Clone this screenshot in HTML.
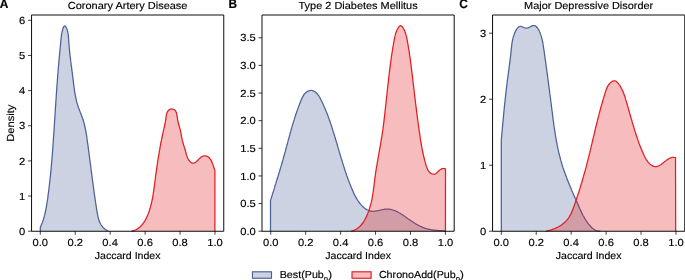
<!DOCTYPE html><html><head><meta charset="utf-8"><style>html,body{margin:0;padding:0;background:#fff;}svg{display:block;will-change:transform;} text{font-family:"Liberation Sans",sans-serif;fill:#000;text-rendering:geometricPrecision;stroke:#000;stroke-width:0.15px;}</style></head><body>
<svg width="685" height="280" viewBox="0 0 685 280">
<rect width="685" height="280" fill="#fff"/>
<path d="M40.30,231.20 L40.30,227.30 L40.6,226.7 L40.9,226.1 L41.1,225.5 L41.4,224.8 L41.7,224.2 L41.9,223.6 L42.2,223.0 L42.4,222.4 L42.6,221.7 L42.8,221.1 L43.1,220.5 L43.3,219.8 L43.5,219.2 L43.7,218.6 L43.8,217.9 L44.0,217.3 L44.2,216.7 L44.4,216.0 L44.6,215.4 L44.7,214.7 L44.9,214.1 L45.0,213.4 L45.2,212.8 L45.3,212.1 L45.5,211.5 L45.6,210.8 L45.7,210.2 L45.9,209.5 L46.0,208.9 L46.1,208.2 L46.2,207.6 L46.3,206.9 L46.5,206.3 L46.6,205.6 L46.7,204.9 L46.8,204.3 L46.9,203.6 L47.0,203.0 L47.1,202.3 L47.2,201.7 L47.3,201.0 L47.4,200.3 L47.5,199.7 L47.6,199.0 L47.7,198.4 L47.8,197.7 L47.9,197.0 L48.0,196.4 L48.0,195.7 L48.1,195.1 L48.2,194.4 L48.3,193.7 L48.4,193.1 L48.5,192.4 L48.6,191.8 L48.7,191.1 L48.7,190.4 L48.8,189.8 L48.9,189.1 L49.0,188.5 L49.1,187.8 L49.1,187.1 L49.2,186.5 L49.3,185.8 L49.4,185.1 L49.5,184.5 L49.5,183.8 L49.6,183.2 L49.7,182.5 L49.8,181.8 L49.8,181.2 L49.9,180.5 L50.0,179.9 L50.0,179.2 L50.1,178.5 L50.2,177.9 L50.3,177.2 L50.3,176.5 L50.4,175.9 L50.5,175.2 L50.5,174.6 L50.6,173.9 L50.7,173.2 L50.7,172.6 L50.8,171.9 L50.9,171.2 L50.9,170.6 L51.0,169.9 L51.0,169.3 L51.1,168.6 L51.2,167.9 L51.2,167.3 L51.3,166.6 L51.3,165.9 L51.4,165.3 L51.5,164.6 L51.5,163.9 L51.6,163.3 L51.6,162.6 L51.7,162.0 L51.8,161.3 L51.8,160.6 L51.9,160.0 L51.9,159.3 L52.0,158.6 L52.0,158.0 L52.1,157.3 L52.1,156.6 L52.2,156.0 L52.2,155.3 L52.3,154.6 L52.3,154.0 L52.4,153.3 L52.4,152.7 L52.5,152.0 L52.5,151.3 L52.6,150.7 L52.6,150.0 L52.7,149.3 L52.7,148.7 L52.8,148.0 L52.8,147.3 L52.9,146.7 L52.9,146.0 L53.0,145.3 L53.0,144.7 L53.1,144.0 L53.1,143.3 L53.2,142.7 L53.2,142.0 L53.3,141.4 L53.3,140.7 L53.4,140.0 L53.4,139.4 L53.4,138.7 L53.5,138.0 L53.5,137.4 L53.6,136.7 L53.6,136.0 L53.7,135.4 L53.7,134.7 L53.8,134.0 L53.8,133.4 L53.9,132.7 L53.9,132.0 L53.9,131.4 L54.0,130.7 L54.0,130.0 L54.1,129.4 L54.1,128.7 L54.2,128.1 L54.2,127.4 L54.2,126.7 L54.3,126.1 L54.3,125.4 L54.4,124.7 L54.4,124.1 L54.5,123.4 L54.5,122.7 L54.5,122.1 L54.6,121.4 L54.6,120.7 L54.7,120.1 L54.7,119.4 L54.8,118.7 L54.8,118.1 L54.8,117.4 L54.9,116.7 L54.9,116.1 L55.0,115.4 L55.0,114.8 L55.1,114.1 L55.1,113.4 L55.1,112.8 L55.2,112.1 L55.2,111.4 L55.3,110.8 L55.3,110.1 L55.4,109.4 L55.4,108.8 L55.4,108.1 L55.5,107.4 L55.5,106.8 L55.6,106.1 L55.6,105.4 L55.7,104.8 L55.7,104.1 L55.8,103.4 L55.8,102.8 L55.8,102.1 L55.9,101.5 L55.9,100.8 L56.0,100.1 L56.0,99.5 L56.1,98.8 L56.1,98.1 L56.2,97.5 L56.2,96.8 L56.2,96.1 L56.3,95.5 L56.3,94.8 L56.4,94.1 L56.4,93.5 L56.5,92.8 L56.5,92.1 L56.6,91.5 L56.6,90.8 L56.7,90.2 L56.7,89.5 L56.8,88.8 L56.8,88.2 L56.8,87.5 L56.9,86.8 L56.9,86.2 L57.0,85.5 L57.0,84.8 L57.1,84.2 L57.1,83.5 L57.2,82.8 L57.2,82.2 L57.3,81.5 L57.3,80.9 L57.4,80.2 L57.4,79.5 L57.5,78.9 L57.5,78.2 L57.6,77.5 L57.6,76.9 L57.7,76.2 L57.7,75.5 L57.8,74.9 L57.8,74.2 L57.9,73.5 L58.0,72.9 L58.0,72.2 L58.1,71.6 L58.1,70.9 L58.2,70.2 L58.2,69.6 L58.3,68.9 L58.3,68.2 L58.4,67.6 L58.4,66.9 L58.5,66.2 L58.6,65.6 L58.6,64.9 L58.7,64.3 L58.7,63.6 L58.8,62.9 L58.8,62.3 L58.9,61.6 L59.0,60.9 L59.0,60.3 L59.1,59.6 L59.1,58.9 L59.2,58.3 L59.3,57.6 L59.3,57.0 L59.4,56.3 L59.5,55.6 L59.5,55.0 L59.6,54.3 L59.6,53.6 L59.7,53.0 L59.8,52.3 L59.8,51.6 L59.9,51.0 L60.0,50.3 L60.0,49.7 L60.1,49.0 L60.1,48.3 L60.2,47.7 L60.3,47.0 L60.3,46.3 L60.4,45.7 L60.5,45.0 L60.5,44.4 L60.6,43.7 L60.7,43.0 L60.7,42.4 L60.8,41.7 L60.8,41.1 L60.9,40.4 L61.0,39.7 L61.0,39.1 L61.1,38.4 L61.2,37.8 L61.2,37.1 L61.3,36.4 L61.4,35.8 L61.5,35.1 L61.6,34.4 L61.7,33.7 L61.8,33.0 L62.0,32.4 L62.1,31.7 L62.3,31.0 L62.5,30.2 L62.7,29.5 L62.9,28.8 L63.2,28.1 L63.4,27.5 L63.7,26.9 L64.0,26.4 L64.3,26.1 L64.6,25.9 L64.9,25.9 L65.2,26.1 L65.6,26.5 L65.9,27.0 L66.2,27.5 L66.5,28.2 L66.8,28.9 L67.1,29.6 L67.3,30.3 L67.5,31.0 L67.7,31.7 L67.8,32.4 L68.0,33.1 L68.1,33.8 L68.2,34.5 L68.3,35.2 L68.3,35.8 L68.4,36.5 L68.5,37.2 L68.5,37.9 L68.6,38.5 L68.6,39.2 L68.6,39.9 L68.7,40.5 L68.7,41.2 L68.8,41.8 L68.8,42.5 L68.9,43.2 L68.9,43.8 L69.0,44.5 L69.0,45.2 L69.1,45.8 L69.1,46.5 L69.2,47.1 L69.3,47.8 L69.3,48.5 L69.4,49.1 L69.4,49.8 L69.5,50.4 L69.6,51.1 L69.7,51.8 L69.7,52.4 L69.8,53.1 L69.9,53.7 L69.9,54.4 L70.0,55.1 L70.1,55.7 L70.2,56.4 L70.2,57.0 L70.3,57.7 L70.4,58.4 L70.5,59.0 L70.6,59.7 L70.6,60.3 L70.7,61.0 L70.8,61.7 L70.9,62.3 L71.0,63.0 L71.1,63.6 L71.1,64.3 L71.2,65.0 L71.3,65.6 L71.4,66.3 L71.5,66.9 L71.6,67.6 L71.7,68.3 L71.7,68.9 L71.8,69.6 L71.9,70.2 L72.0,70.9 L72.1,71.6 L72.2,72.2 L72.3,72.9 L72.3,73.5 L72.4,74.2 L72.5,74.9 L72.6,75.5 L72.7,76.2 L72.8,76.8 L72.9,77.5 L72.9,78.2 L73.0,78.8 L73.1,79.5 L73.2,80.2 L73.3,80.8 L73.3,81.5 L73.4,82.2 L73.5,82.8 L73.6,83.5 L73.7,84.2 L73.7,84.8 L73.8,85.5 L73.9,86.2 L74.0,86.8 L74.1,87.5 L74.2,88.1 L74.3,88.8 L74.4,89.5 L74.5,90.1 L74.5,90.8 L74.6,91.5 L74.7,92.1 L74.9,92.8 L75.0,93.4 L75.1,94.1 L75.2,94.8 L75.3,95.4 L75.4,96.1 L75.6,96.7 L75.7,97.4 L75.8,98.0 L76.0,98.7 L76.1,99.3 L76.3,100.0 L76.4,100.6 L76.6,101.3 L76.7,101.9 L76.9,102.5 L77.1,103.2 L77.3,103.8 L77.5,104.4 L77.7,105.1 L77.9,105.7 L78.1,106.3 L78.3,107.0 L78.5,107.6 L78.7,108.2 L79.0,108.8 L79.2,109.4 L79.4,110.1 L79.7,110.7 L79.9,111.3 L80.2,111.9 L80.4,112.5 L80.7,113.2 L80.9,113.8 L81.1,114.4 L81.4,115.0 L81.6,115.6 L81.8,116.3 L82.1,116.9 L82.3,117.5 L82.5,118.1 L82.7,118.8 L83.0,119.4 L83.2,120.0 L83.4,120.7 L83.5,121.3 L83.7,121.9 L83.9,122.6 L84.1,123.2 L84.3,123.9 L84.4,124.5 L84.6,125.2 L84.7,125.8 L84.9,126.5 L85.0,127.1 L85.2,127.8 L85.3,128.4 L85.4,129.1 L85.6,129.8 L85.7,130.4 L85.8,131.1 L85.9,131.7 L86.0,132.4 L86.1,133.1 L86.3,133.7 L86.4,134.4 L86.5,135.0 L86.6,135.7 L86.7,136.4 L86.8,137.0 L86.9,137.7 L87.0,138.4 L87.1,139.0 L87.1,139.7 L87.2,140.4 L87.3,141.0 L87.4,141.7 L87.5,142.3 L87.6,143.0 L87.7,143.7 L87.8,144.3 L87.9,145.0 L88.0,145.6 L88.1,146.3 L88.2,147.0 L88.2,147.6 L88.3,148.3 L88.4,148.9 L88.5,149.6 L88.6,150.3 L88.7,150.9 L88.8,151.6 L88.9,152.2 L89.0,152.9 L89.0,153.6 L89.1,154.2 L89.2,154.9 L89.3,155.5 L89.4,156.2 L89.5,156.8 L89.6,157.5 L89.6,158.2 L89.7,158.8 L89.8,159.5 L89.9,160.1 L90.0,160.8 L90.1,161.4 L90.1,162.1 L90.2,162.8 L90.3,163.4 L90.4,164.1 L90.5,164.7 L90.6,165.4 L90.7,166.0 L90.7,166.7 L90.8,167.3 L90.9,168.0 L91.0,168.7 L91.1,169.3 L91.2,170.0 L91.2,170.6 L91.3,171.3 L91.4,171.9 L91.5,172.6 L91.6,173.2 L91.7,173.9 L91.8,174.6 L91.8,175.2 L91.9,175.9 L92.0,176.5 L92.1,177.2 L92.2,177.8 L92.3,178.5 L92.4,179.2 L92.4,179.8 L92.5,180.5 L92.6,181.1 L92.7,181.8 L92.8,182.4 L92.9,183.1 L93.0,183.8 L93.1,184.4 L93.1,185.1 L93.2,185.7 L93.3,186.4 L93.4,187.1 L93.5,187.7 L93.6,188.4 L93.7,189.0 L93.8,189.7 L93.9,190.4 L94.0,191.0 L94.0,191.7 L94.1,192.3 L94.2,193.0 L94.3,193.7 L94.4,194.3 L94.5,195.0 L94.6,195.7 L94.7,196.3 L94.8,197.0 L94.9,197.7 L95.0,198.3 L95.1,199.0 L95.2,199.7 L95.3,200.3 L95.4,201.0 L95.5,201.7 L95.6,202.3 L95.7,203.0 L95.8,203.7 L95.9,204.3 L96.0,205.0 L96.1,205.7 L96.2,206.3 L96.3,207.0 L96.4,207.7 L96.5,208.4 L96.6,209.0 L96.7,209.7 L96.8,210.4 L96.9,211.0 L97.1,211.7 L97.2,212.4 L97.3,213.1 L97.4,213.7 L97.5,214.4 L97.7,215.1 L97.8,215.7 L97.9,216.4 L98.1,217.0 L98.3,217.7 L98.4,218.3 L98.6,219.0 L98.8,219.6 L99.0,220.2 L99.2,220.8 L99.4,221.4 L99.7,222.0 L99.9,222.6 L100.2,223.2 L100.5,223.7 L100.8,224.3 L101.1,224.8 L101.5,225.4 L101.8,225.9 L102.2,226.4 L102.6,226.9 L103.0,227.4 L103.4,227.8 L103.9,228.3 L104.4,228.7 L104.9,229.1 L105.4,229.5 L106.0,229.9 L106.6,230.2 L107.2,230.6 L107.8,230.9 L108.5,231.2 L40.30,231.20 Z" fill="rgb(204,210,225)" stroke="none"/>
<path d="M40.30,231.20 L40.30,227.30 L40.6,226.7 L40.9,226.1 L41.1,225.5 L41.4,224.8 L41.7,224.2 L41.9,223.6 L42.2,223.0 L42.4,222.4 L42.6,221.7 L42.8,221.1 L43.1,220.5 L43.3,219.8 L43.5,219.2 L43.7,218.6 L43.8,217.9 L44.0,217.3 L44.2,216.7 L44.4,216.0 L44.6,215.4 L44.7,214.7 L44.9,214.1 L45.0,213.4 L45.2,212.8 L45.3,212.1 L45.5,211.5 L45.6,210.8 L45.7,210.2 L45.9,209.5 L46.0,208.9 L46.1,208.2 L46.2,207.6 L46.3,206.9 L46.5,206.3 L46.6,205.6 L46.7,204.9 L46.8,204.3 L46.9,203.6 L47.0,203.0 L47.1,202.3 L47.2,201.7 L47.3,201.0 L47.4,200.3 L47.5,199.7 L47.6,199.0 L47.7,198.4 L47.8,197.7 L47.9,197.0 L48.0,196.4 L48.0,195.7 L48.1,195.1 L48.2,194.4 L48.3,193.7 L48.4,193.1 L48.5,192.4 L48.6,191.8 L48.7,191.1 L48.7,190.4 L48.8,189.8 L48.9,189.1 L49.0,188.5 L49.1,187.8 L49.1,187.1 L49.2,186.5 L49.3,185.8 L49.4,185.1 L49.5,184.5 L49.5,183.8 L49.6,183.2 L49.7,182.5 L49.8,181.8 L49.8,181.2 L49.9,180.5 L50.0,179.9 L50.0,179.2 L50.1,178.5 L50.2,177.9 L50.3,177.2 L50.3,176.5 L50.4,175.9 L50.5,175.2 L50.5,174.6 L50.6,173.9 L50.7,173.2 L50.7,172.6 L50.8,171.9 L50.9,171.2 L50.9,170.6 L51.0,169.9 L51.0,169.3 L51.1,168.6 L51.2,167.9 L51.2,167.3 L51.3,166.6 L51.3,165.9 L51.4,165.3 L51.5,164.6 L51.5,163.9 L51.6,163.3 L51.6,162.6 L51.7,162.0 L51.8,161.3 L51.8,160.6 L51.9,160.0 L51.9,159.3 L52.0,158.6 L52.0,158.0 L52.1,157.3 L52.1,156.6 L52.2,156.0 L52.2,155.3 L52.3,154.6 L52.3,154.0 L52.4,153.3 L52.4,152.7 L52.5,152.0 L52.5,151.3 L52.6,150.7 L52.6,150.0 L52.7,149.3 L52.7,148.7 L52.8,148.0 L52.8,147.3 L52.9,146.7 L52.9,146.0 L53.0,145.3 L53.0,144.7 L53.1,144.0 L53.1,143.3 L53.2,142.7 L53.2,142.0 L53.3,141.4 L53.3,140.7 L53.4,140.0 L53.4,139.4 L53.4,138.7 L53.5,138.0 L53.5,137.4 L53.6,136.7 L53.6,136.0 L53.7,135.4 L53.7,134.7 L53.8,134.0 L53.8,133.4 L53.9,132.7 L53.9,132.0 L53.9,131.4 L54.0,130.7 L54.0,130.0 L54.1,129.4 L54.1,128.7 L54.2,128.1 L54.2,127.4 L54.2,126.7 L54.3,126.1 L54.3,125.4 L54.4,124.7 L54.4,124.1 L54.5,123.4 L54.5,122.7 L54.5,122.1 L54.6,121.4 L54.6,120.7 L54.7,120.1 L54.7,119.4 L54.8,118.7 L54.8,118.1 L54.8,117.4 L54.9,116.7 L54.9,116.1 L55.0,115.4 L55.0,114.8 L55.1,114.1 L55.1,113.4 L55.1,112.8 L55.2,112.1 L55.2,111.4 L55.3,110.8 L55.3,110.1 L55.4,109.4 L55.4,108.8 L55.4,108.1 L55.5,107.4 L55.5,106.8 L55.6,106.1 L55.6,105.4 L55.7,104.8 L55.7,104.1 L55.8,103.4 L55.8,102.8 L55.8,102.1 L55.9,101.5 L55.9,100.8 L56.0,100.1 L56.0,99.5 L56.1,98.8 L56.1,98.1 L56.2,97.5 L56.2,96.8 L56.2,96.1 L56.3,95.5 L56.3,94.8 L56.4,94.1 L56.4,93.5 L56.5,92.8 L56.5,92.1 L56.6,91.5 L56.6,90.8 L56.7,90.2 L56.7,89.5 L56.8,88.8 L56.8,88.2 L56.8,87.5 L56.9,86.8 L56.9,86.2 L57.0,85.5 L57.0,84.8 L57.1,84.2 L57.1,83.5 L57.2,82.8 L57.2,82.2 L57.3,81.5 L57.3,80.9 L57.4,80.2 L57.4,79.5 L57.5,78.9 L57.5,78.2 L57.6,77.5 L57.6,76.9 L57.7,76.2 L57.7,75.5 L57.8,74.9 L57.8,74.2 L57.9,73.5 L58.0,72.9 L58.0,72.2 L58.1,71.6 L58.1,70.9 L58.2,70.2 L58.2,69.6 L58.3,68.9 L58.3,68.2 L58.4,67.6 L58.4,66.9 L58.5,66.2 L58.6,65.6 L58.6,64.9 L58.7,64.3 L58.7,63.6 L58.8,62.9 L58.8,62.3 L58.9,61.6 L59.0,60.9 L59.0,60.3 L59.1,59.6 L59.1,58.9 L59.2,58.3 L59.3,57.6 L59.3,57.0 L59.4,56.3 L59.5,55.6 L59.5,55.0 L59.6,54.3 L59.6,53.6 L59.7,53.0 L59.8,52.3 L59.8,51.6 L59.9,51.0 L60.0,50.3 L60.0,49.7 L60.1,49.0 L60.1,48.3 L60.2,47.7 L60.3,47.0 L60.3,46.3 L60.4,45.7 L60.5,45.0 L60.5,44.4 L60.6,43.7 L60.7,43.0 L60.7,42.4 L60.8,41.7 L60.8,41.1 L60.9,40.4 L61.0,39.7 L61.0,39.1 L61.1,38.4 L61.2,37.8 L61.2,37.1 L61.3,36.4 L61.4,35.8 L61.5,35.1 L61.6,34.4 L61.7,33.7 L61.8,33.0 L62.0,32.4 L62.1,31.7 L62.3,31.0 L62.5,30.2 L62.7,29.5 L62.9,28.8 L63.2,28.1 L63.4,27.5 L63.7,26.9 L64.0,26.4 L64.3,26.1 L64.6,25.9 L64.9,25.9 L65.2,26.1 L65.6,26.5 L65.9,27.0 L66.2,27.5 L66.5,28.2 L66.8,28.9 L67.1,29.6 L67.3,30.3 L67.5,31.0 L67.7,31.7 L67.8,32.4 L68.0,33.1 L68.1,33.8 L68.2,34.5 L68.3,35.2 L68.3,35.8 L68.4,36.5 L68.5,37.2 L68.5,37.9 L68.6,38.5 L68.6,39.2 L68.6,39.9 L68.7,40.5 L68.7,41.2 L68.8,41.8 L68.8,42.5 L68.9,43.2 L68.9,43.8 L69.0,44.5 L69.0,45.2 L69.1,45.8 L69.1,46.5 L69.2,47.1 L69.3,47.8 L69.3,48.5 L69.4,49.1 L69.4,49.8 L69.5,50.4 L69.6,51.1 L69.7,51.8 L69.7,52.4 L69.8,53.1 L69.9,53.7 L69.9,54.4 L70.0,55.1 L70.1,55.7 L70.2,56.4 L70.2,57.0 L70.3,57.7 L70.4,58.4 L70.5,59.0 L70.6,59.7 L70.6,60.3 L70.7,61.0 L70.8,61.7 L70.9,62.3 L71.0,63.0 L71.1,63.6 L71.1,64.3 L71.2,65.0 L71.3,65.6 L71.4,66.3 L71.5,66.9 L71.6,67.6 L71.7,68.3 L71.7,68.9 L71.8,69.6 L71.9,70.2 L72.0,70.9 L72.1,71.6 L72.2,72.2 L72.3,72.9 L72.3,73.5 L72.4,74.2 L72.5,74.9 L72.6,75.5 L72.7,76.2 L72.8,76.8 L72.9,77.5 L72.9,78.2 L73.0,78.8 L73.1,79.5 L73.2,80.2 L73.3,80.8 L73.3,81.5 L73.4,82.2 L73.5,82.8 L73.6,83.5 L73.7,84.2 L73.7,84.8 L73.8,85.5 L73.9,86.2 L74.0,86.8 L74.1,87.5 L74.2,88.1 L74.3,88.8 L74.4,89.5 L74.5,90.1 L74.5,90.8 L74.6,91.5 L74.7,92.1 L74.9,92.8 L75.0,93.4 L75.1,94.1 L75.2,94.8 L75.3,95.4 L75.4,96.1 L75.6,96.7 L75.7,97.4 L75.8,98.0 L76.0,98.7 L76.1,99.3 L76.3,100.0 L76.4,100.6 L76.6,101.3 L76.7,101.9 L76.9,102.5 L77.1,103.2 L77.3,103.8 L77.5,104.4 L77.7,105.1 L77.9,105.7 L78.1,106.3 L78.3,107.0 L78.5,107.6 L78.7,108.2 L79.0,108.8 L79.2,109.4 L79.4,110.1 L79.7,110.7 L79.9,111.3 L80.2,111.9 L80.4,112.5 L80.7,113.2 L80.9,113.8 L81.1,114.4 L81.4,115.0 L81.6,115.6 L81.8,116.3 L82.1,116.9 L82.3,117.5 L82.5,118.1 L82.7,118.8 L83.0,119.4 L83.2,120.0 L83.4,120.7 L83.5,121.3 L83.7,121.9 L83.9,122.6 L84.1,123.2 L84.3,123.9 L84.4,124.5 L84.6,125.2 L84.7,125.8 L84.9,126.5 L85.0,127.1 L85.2,127.8 L85.3,128.4 L85.4,129.1 L85.6,129.8 L85.7,130.4 L85.8,131.1 L85.9,131.7 L86.0,132.4 L86.1,133.1 L86.3,133.7 L86.4,134.4 L86.5,135.0 L86.6,135.7 L86.7,136.4 L86.8,137.0 L86.9,137.7 L87.0,138.4 L87.1,139.0 L87.1,139.7 L87.2,140.4 L87.3,141.0 L87.4,141.7 L87.5,142.3 L87.6,143.0 L87.7,143.7 L87.8,144.3 L87.9,145.0 L88.0,145.6 L88.1,146.3 L88.2,147.0 L88.2,147.6 L88.3,148.3 L88.4,148.9 L88.5,149.6 L88.6,150.3 L88.7,150.9 L88.8,151.6 L88.9,152.2 L89.0,152.9 L89.0,153.6 L89.1,154.2 L89.2,154.9 L89.3,155.5 L89.4,156.2 L89.5,156.8 L89.6,157.5 L89.6,158.2 L89.7,158.8 L89.8,159.5 L89.9,160.1 L90.0,160.8 L90.1,161.4 L90.1,162.1 L90.2,162.8 L90.3,163.4 L90.4,164.1 L90.5,164.7 L90.6,165.4 L90.7,166.0 L90.7,166.7 L90.8,167.3 L90.9,168.0 L91.0,168.7 L91.1,169.3 L91.2,170.0 L91.2,170.6 L91.3,171.3 L91.4,171.9 L91.5,172.6 L91.6,173.2 L91.7,173.9 L91.8,174.6 L91.8,175.2 L91.9,175.9 L92.0,176.5 L92.1,177.2 L92.2,177.8 L92.3,178.5 L92.4,179.2 L92.4,179.8 L92.5,180.5 L92.6,181.1 L92.7,181.8 L92.8,182.4 L92.9,183.1 L93.0,183.8 L93.1,184.4 L93.1,185.1 L93.2,185.7 L93.3,186.4 L93.4,187.1 L93.5,187.7 L93.6,188.4 L93.7,189.0 L93.8,189.7 L93.9,190.4 L94.0,191.0 L94.0,191.7 L94.1,192.3 L94.2,193.0 L94.3,193.7 L94.4,194.3 L94.5,195.0 L94.6,195.7 L94.7,196.3 L94.8,197.0 L94.9,197.7 L95.0,198.3 L95.1,199.0 L95.2,199.7 L95.3,200.3 L95.4,201.0 L95.5,201.7 L95.6,202.3 L95.7,203.0 L95.8,203.7 L95.9,204.3 L96.0,205.0 L96.1,205.7 L96.2,206.3 L96.3,207.0 L96.4,207.7 L96.5,208.4 L96.6,209.0 L96.7,209.7 L96.8,210.4 L96.9,211.0 L97.1,211.7 L97.2,212.4 L97.3,213.1 L97.4,213.7 L97.5,214.4 L97.7,215.1 L97.8,215.7 L97.9,216.4 L98.1,217.0 L98.3,217.7 L98.4,218.3 L98.6,219.0 L98.8,219.6 L99.0,220.2 L99.2,220.8 L99.4,221.4 L99.7,222.0 L99.9,222.6 L100.2,223.2 L100.5,223.7 L100.8,224.3 L101.1,224.8 L101.5,225.4 L101.8,225.9 L102.2,226.4 L102.6,226.9 L103.0,227.4 L103.4,227.8 L103.9,228.3 L104.4,228.7 L104.9,229.1 L105.4,229.5 L106.0,229.9 L106.6,230.2 L107.2,230.6 L107.8,230.9 L108.5,231.2" fill="none" stroke="#4b6198" stroke-width="1.25" stroke-linejoin="round"/>
<path d="M131.40,231.20 L132.1,231.1 L132.8,230.9 L133.5,230.7 L134.1,230.5 L134.7,230.2 L135.4,230.0 L136.0,229.7 L136.5,229.4 L137.1,229.1 L137.7,228.7 L138.2,228.4 L138.7,228.0 L139.2,227.6 L139.7,227.2 L140.2,226.7 L140.7,226.3 L141.1,225.8 L141.6,225.3 L142.0,224.9 L142.4,224.3 L142.8,223.8 L143.2,223.3 L143.6,222.8 L144.0,222.2 L144.3,221.6 L144.7,221.1 L145.0,220.5 L145.4,219.9 L145.7,219.3 L146.0,218.7 L146.3,218.1 L146.6,217.5 L146.9,216.9 L147.2,216.3 L147.4,215.7 L147.7,215.0 L147.9,214.4 L148.2,213.8 L148.4,213.2 L148.7,212.5 L148.9,211.9 L149.1,211.3 L149.3,210.7 L149.5,210.0 L149.7,209.4 L149.9,208.8 L150.1,208.1 L150.3,207.5 L150.5,206.8 L150.7,206.2 L150.8,205.6 L151.0,204.9 L151.2,204.3 L151.3,203.6 L151.5,203.0 L151.6,202.4 L151.8,201.7 L151.9,201.1 L152.0,200.4 L152.2,199.8 L152.3,199.1 L152.4,198.5 L152.6,197.8 L152.7,197.2 L152.8,196.5 L152.9,195.8 L153.0,195.2 L153.1,194.5 L153.2,193.9 L153.3,193.2 L153.4,192.6 L153.5,191.9 L153.6,191.3 L153.7,190.6 L153.8,189.9 L153.9,189.3 L154.0,188.6 L154.1,188.0 L154.2,187.3 L154.3,186.6 L154.3,186.0 L154.4,185.3 L154.5,184.7 L154.6,184.0 L154.7,183.3 L154.8,182.7 L154.9,182.0 L154.9,181.4 L155.0,180.7 L155.1,180.0 L155.2,179.4 L155.3,178.7 L155.4,178.0 L155.5,177.4 L155.5,176.7 L155.6,176.1 L155.7,175.4 L155.8,174.7 L155.9,174.1 L156.0,173.4 L156.1,172.7 L156.2,172.1 L156.3,171.4 L156.4,170.8 L156.5,170.1 L156.5,169.4 L156.6,168.8 L156.7,168.1 L156.8,167.5 L156.9,166.8 L157.0,166.1 L157.1,165.5 L157.2,164.8 L157.3,164.2 L157.4,163.5 L157.5,162.8 L157.6,162.2 L157.7,161.5 L157.8,160.9 L157.9,160.2 L158.0,159.5 L158.1,158.9 L158.2,158.2 L158.3,157.6 L158.4,156.9 L158.5,156.2 L158.7,155.6 L158.8,154.9 L158.9,154.3 L159.0,153.6 L159.1,153.0 L159.2,152.3 L159.3,151.7 L159.4,151.0 L159.5,150.3 L159.7,149.7 L159.8,149.0 L159.9,148.4 L160.0,147.7 L160.1,147.1 L160.2,146.4 L160.4,145.8 L160.5,145.1 L160.6,144.5 L160.7,143.8 L160.8,143.2 L161.0,142.5 L161.1,141.9 L161.2,141.2 L161.3,140.6 L161.5,139.9 L161.6,139.3 L161.7,138.6 L161.9,138.0 L162.0,137.3 L162.1,136.7 L162.3,136.1 L162.4,135.4 L162.5,134.8 L162.7,134.1 L162.8,133.5 L163.0,132.9 L163.1,132.2 L163.3,131.6 L163.4,130.9 L163.5,130.3 L163.7,129.7 L163.8,129.0 L164.0,128.4 L164.1,127.7 L164.3,127.1 L164.4,126.5 L164.6,125.8 L164.7,125.2 L164.9,124.5 L165.0,123.8 L165.1,123.2 L165.2,122.5 L165.4,121.8 L165.5,121.1 L165.6,120.4 L165.7,119.6 L165.8,118.9 L165.9,118.1 L166.0,117.4 L166.1,116.7 L166.2,115.9 L166.4,115.2 L166.5,114.5 L166.7,113.8 L166.9,113.1 L167.1,112.5 L167.4,111.9 L167.7,111.4 L168.1,110.9 L168.4,110.4 L168.9,110.0 L169.4,109.6 L169.9,109.4 L170.5,109.1 L171.1,109.0 L171.7,108.9 L172.3,109.0 L172.9,109.1 L173.5,109.3 L174.1,109.5 L174.5,109.9 L175.0,110.3 L175.4,110.7 L175.7,111.2 L176.0,111.8 L176.2,112.4 L176.5,113.0 L176.6,113.7 L176.8,114.4 L176.9,115.1 L177.1,115.9 L177.2,116.6 L177.3,117.4 L177.4,118.1 L177.5,118.9 L177.6,119.6 L177.7,120.3 L177.8,121.0 L178.0,121.7 L178.2,122.4 L178.3,123.1 L178.5,123.7 L178.7,124.4 L178.8,125.0 L179.0,125.6 L179.2,126.2 L179.4,126.8 L179.6,127.5 L179.8,128.1 L179.9,128.7 L180.1,129.3 L180.3,129.9 L180.4,130.6 L180.6,131.2 L180.7,131.9 L180.8,132.5 L180.9,133.2 L181.1,133.8 L181.2,134.5 L181.3,135.1 L181.4,135.8 L181.5,136.5 L181.6,137.1 L181.8,137.8 L181.9,138.4 L182.0,139.1 L182.2,139.8 L182.3,140.4 L182.5,141.0 L182.7,141.7 L182.9,142.3 L183.0,143.0 L183.2,143.6 L183.4,144.2 L183.6,144.9 L183.8,145.5 L184.0,146.1 L184.2,146.7 L184.4,147.4 L184.6,148.0 L184.8,148.6 L185.0,149.3 L185.2,149.9 L185.3,150.6 L185.5,151.2 L185.7,151.9 L185.8,152.5 L186.0,153.2 L186.2,153.8 L186.4,154.5 L186.6,155.1 L186.8,155.7 L187.0,156.4 L187.2,157.0 L187.5,157.6 L187.8,158.3 L188.1,158.9 L188.5,159.5 L188.8,160.1 L189.2,160.6 L189.7,161.2 L190.1,161.7 L190.6,162.1 L191.1,162.5 L191.6,162.8 L192.1,163.1 L192.6,163.2 L193.2,163.2 L193.7,163.2 L194.2,163.0 L194.8,162.7 L195.3,162.4 L195.9,162.0 L196.4,161.6 L196.9,161.1 L197.5,160.6 L198.0,160.0 L198.5,159.5 L199.0,158.9 L199.6,158.4 L200.1,157.9 L200.6,157.5 L201.2,157.0 L201.7,156.7 L202.3,156.4 L202.9,156.2 L203.5,156.0 L204.1,155.9 L204.7,155.9 L205.4,155.9 L206.0,156.0 L206.6,156.1 L207.2,156.4 L207.7,156.6 L208.3,157.0 L208.8,157.4 L209.2,157.8 L209.7,158.3 L210.1,158.8 L210.5,159.4 L210.9,160.0 L211.2,160.6 L211.5,161.2 L211.8,161.9 L212.1,162.5 L212.4,163.2 L212.7,163.8 L212.9,164.5 L213.1,165.1 L213.3,165.7 L213.5,166.3 L213.8,166.9 L213.9,167.6 L214.1,168.2 L214.3,168.8 L214.5,169.4 L214.7,170.0 L214.9,170.7 L214.90,231.20 L131.40,231.20 Z" fill="rgba(226,28,32,0.29)" stroke="none"/>
<path d="M131.40,231.20 L132.1,231.1 L132.8,230.9 L133.5,230.7 L134.1,230.5 L134.7,230.2 L135.4,230.0 L136.0,229.7 L136.5,229.4 L137.1,229.1 L137.7,228.7 L138.2,228.4 L138.7,228.0 L139.2,227.6 L139.7,227.2 L140.2,226.7 L140.7,226.3 L141.1,225.8 L141.6,225.3 L142.0,224.9 L142.4,224.3 L142.8,223.8 L143.2,223.3 L143.6,222.8 L144.0,222.2 L144.3,221.6 L144.7,221.1 L145.0,220.5 L145.4,219.9 L145.7,219.3 L146.0,218.7 L146.3,218.1 L146.6,217.5 L146.9,216.9 L147.2,216.3 L147.4,215.7 L147.7,215.0 L147.9,214.4 L148.2,213.8 L148.4,213.2 L148.7,212.5 L148.9,211.9 L149.1,211.3 L149.3,210.7 L149.5,210.0 L149.7,209.4 L149.9,208.8 L150.1,208.1 L150.3,207.5 L150.5,206.8 L150.7,206.2 L150.8,205.6 L151.0,204.9 L151.2,204.3 L151.3,203.6 L151.5,203.0 L151.6,202.4 L151.8,201.7 L151.9,201.1 L152.0,200.4 L152.2,199.8 L152.3,199.1 L152.4,198.5 L152.6,197.8 L152.7,197.2 L152.8,196.5 L152.9,195.8 L153.0,195.2 L153.1,194.5 L153.2,193.9 L153.3,193.2 L153.4,192.6 L153.5,191.9 L153.6,191.3 L153.7,190.6 L153.8,189.9 L153.9,189.3 L154.0,188.6 L154.1,188.0 L154.2,187.3 L154.3,186.6 L154.3,186.0 L154.4,185.3 L154.5,184.7 L154.6,184.0 L154.7,183.3 L154.8,182.7 L154.9,182.0 L154.9,181.4 L155.0,180.7 L155.1,180.0 L155.2,179.4 L155.3,178.7 L155.4,178.0 L155.5,177.4 L155.5,176.7 L155.6,176.1 L155.7,175.4 L155.8,174.7 L155.9,174.1 L156.0,173.4 L156.1,172.7 L156.2,172.1 L156.3,171.4 L156.4,170.8 L156.5,170.1 L156.5,169.4 L156.6,168.8 L156.7,168.1 L156.8,167.5 L156.9,166.8 L157.0,166.1 L157.1,165.5 L157.2,164.8 L157.3,164.2 L157.4,163.5 L157.5,162.8 L157.6,162.2 L157.7,161.5 L157.8,160.9 L157.9,160.2 L158.0,159.5 L158.1,158.9 L158.2,158.2 L158.3,157.6 L158.4,156.9 L158.5,156.2 L158.7,155.6 L158.8,154.9 L158.9,154.3 L159.0,153.6 L159.1,153.0 L159.2,152.3 L159.3,151.7 L159.4,151.0 L159.5,150.3 L159.7,149.7 L159.8,149.0 L159.9,148.4 L160.0,147.7 L160.1,147.1 L160.2,146.4 L160.4,145.8 L160.5,145.1 L160.6,144.5 L160.7,143.8 L160.8,143.2 L161.0,142.5 L161.1,141.9 L161.2,141.2 L161.3,140.6 L161.5,139.9 L161.6,139.3 L161.7,138.6 L161.9,138.0 L162.0,137.3 L162.1,136.7 L162.3,136.1 L162.4,135.4 L162.5,134.8 L162.7,134.1 L162.8,133.5 L163.0,132.9 L163.1,132.2 L163.3,131.6 L163.4,130.9 L163.5,130.3 L163.7,129.7 L163.8,129.0 L164.0,128.4 L164.1,127.7 L164.3,127.1 L164.4,126.5 L164.6,125.8 L164.7,125.2 L164.9,124.5 L165.0,123.8 L165.1,123.2 L165.2,122.5 L165.4,121.8 L165.5,121.1 L165.6,120.4 L165.7,119.6 L165.8,118.9 L165.9,118.1 L166.0,117.4 L166.1,116.7 L166.2,115.9 L166.4,115.2 L166.5,114.5 L166.7,113.8 L166.9,113.1 L167.1,112.5 L167.4,111.9 L167.7,111.4 L168.1,110.9 L168.4,110.4 L168.9,110.0 L169.4,109.6 L169.9,109.4 L170.5,109.1 L171.1,109.0 L171.7,108.9 L172.3,109.0 L172.9,109.1 L173.5,109.3 L174.1,109.5 L174.5,109.9 L175.0,110.3 L175.4,110.7 L175.7,111.2 L176.0,111.8 L176.2,112.4 L176.5,113.0 L176.6,113.7 L176.8,114.4 L176.9,115.1 L177.1,115.9 L177.2,116.6 L177.3,117.4 L177.4,118.1 L177.5,118.9 L177.6,119.6 L177.7,120.3 L177.8,121.0 L178.0,121.7 L178.2,122.4 L178.3,123.1 L178.5,123.7 L178.7,124.4 L178.8,125.0 L179.0,125.6 L179.2,126.2 L179.4,126.8 L179.6,127.5 L179.8,128.1 L179.9,128.7 L180.1,129.3 L180.3,129.9 L180.4,130.6 L180.6,131.2 L180.7,131.9 L180.8,132.5 L180.9,133.2 L181.1,133.8 L181.2,134.5 L181.3,135.1 L181.4,135.8 L181.5,136.5 L181.6,137.1 L181.8,137.8 L181.9,138.4 L182.0,139.1 L182.2,139.8 L182.3,140.4 L182.5,141.0 L182.7,141.7 L182.9,142.3 L183.0,143.0 L183.2,143.6 L183.4,144.2 L183.6,144.9 L183.8,145.5 L184.0,146.1 L184.2,146.7 L184.4,147.4 L184.6,148.0 L184.8,148.6 L185.0,149.3 L185.2,149.9 L185.3,150.6 L185.5,151.2 L185.7,151.9 L185.8,152.5 L186.0,153.2 L186.2,153.8 L186.4,154.5 L186.6,155.1 L186.8,155.7 L187.0,156.4 L187.2,157.0 L187.5,157.6 L187.8,158.3 L188.1,158.9 L188.5,159.5 L188.8,160.1 L189.2,160.6 L189.7,161.2 L190.1,161.7 L190.6,162.1 L191.1,162.5 L191.6,162.8 L192.1,163.1 L192.6,163.2 L193.2,163.2 L193.7,163.2 L194.2,163.0 L194.8,162.7 L195.3,162.4 L195.9,162.0 L196.4,161.6 L196.9,161.1 L197.5,160.6 L198.0,160.0 L198.5,159.5 L199.0,158.9 L199.6,158.4 L200.1,157.9 L200.6,157.5 L201.2,157.0 L201.7,156.7 L202.3,156.4 L202.9,156.2 L203.5,156.0 L204.1,155.9 L204.7,155.9 L205.4,155.9 L206.0,156.0 L206.6,156.1 L207.2,156.4 L207.7,156.6 L208.3,157.0 L208.8,157.4 L209.2,157.8 L209.7,158.3 L210.1,158.8 L210.5,159.4 L210.9,160.0 L211.2,160.6 L211.5,161.2 L211.8,161.9 L212.1,162.5 L212.4,163.2 L212.7,163.8 L212.9,164.5 L213.1,165.1 L213.3,165.7 L213.5,166.3 L213.8,166.9 L213.9,167.6 L214.1,168.2 L214.3,168.8 L214.5,169.4 L214.7,170.0 L214.9,170.7 L214.90,231.20" fill="none" stroke="#e21c20" stroke-width="1.25" stroke-linejoin="round"/>
<path d="M31.55,15.00 H223.75 V231.25 H31.55 Z" fill="none" stroke="#000" stroke-width="0.95" stroke-linejoin="miter"/>
<line x1="40.28" y1="231.20" x2="40.28" y2="234.70" stroke="#000" stroke-width="0.75"/>
<text x="40.28" y="246.00" font-size="10.25" text-anchor="middle" textLength="15.55" lengthAdjust="spacingAndGlyphs">0.0</text>
<line x1="75.22" y1="231.20" x2="75.22" y2="234.70" stroke="#000" stroke-width="0.75"/>
<text x="75.22" y="246.00" font-size="10.25" text-anchor="middle" textLength="15.55" lengthAdjust="spacingAndGlyphs">0.2</text>
<line x1="110.16" y1="231.20" x2="110.16" y2="234.70" stroke="#000" stroke-width="0.75"/>
<text x="110.16" y="246.00" font-size="10.25" text-anchor="middle" textLength="15.55" lengthAdjust="spacingAndGlyphs">0.4</text>
<line x1="145.11" y1="231.20" x2="145.11" y2="234.70" stroke="#000" stroke-width="0.75"/>
<text x="145.11" y="246.00" font-size="10.25" text-anchor="middle" textLength="15.55" lengthAdjust="spacingAndGlyphs">0.6</text>
<line x1="180.04" y1="231.20" x2="180.04" y2="234.70" stroke="#000" stroke-width="0.75"/>
<text x="180.04" y="246.00" font-size="10.25" text-anchor="middle" textLength="15.55" lengthAdjust="spacingAndGlyphs">0.8</text>
<line x1="214.98" y1="231.20" x2="214.98" y2="234.70" stroke="#000" stroke-width="0.75"/>
<text x="214.98" y="246.00" font-size="10.25" text-anchor="middle" textLength="15.55" lengthAdjust="spacingAndGlyphs">1.0</text>
<line x1="28.05" y1="231.20" x2="31.55" y2="231.20" stroke="#000" stroke-width="0.75"/>
<text x="25.35" y="234.85" font-size="10.25" text-anchor="end" textLength="6.22" lengthAdjust="spacingAndGlyphs">0</text>
<line x1="28.05" y1="196.05" x2="31.55" y2="196.05" stroke="#000" stroke-width="0.75"/>
<text x="25.35" y="199.70" font-size="10.25" text-anchor="end" textLength="6.22" lengthAdjust="spacingAndGlyphs">1</text>
<line x1="28.05" y1="160.90" x2="31.55" y2="160.90" stroke="#000" stroke-width="0.75"/>
<text x="25.35" y="164.55" font-size="10.25" text-anchor="end" textLength="6.22" lengthAdjust="spacingAndGlyphs">2</text>
<line x1="28.05" y1="125.75" x2="31.55" y2="125.75" stroke="#000" stroke-width="0.75"/>
<text x="25.35" y="129.40" font-size="10.25" text-anchor="end" textLength="6.22" lengthAdjust="spacingAndGlyphs">3</text>
<line x1="28.05" y1="90.60" x2="31.55" y2="90.60" stroke="#000" stroke-width="0.75"/>
<text x="25.35" y="94.25" font-size="10.25" text-anchor="end" textLength="6.22" lengthAdjust="spacingAndGlyphs">4</text>
<line x1="28.05" y1="55.45" x2="31.55" y2="55.45" stroke="#000" stroke-width="0.75"/>
<text x="25.35" y="59.10" font-size="10.25" text-anchor="end" textLength="6.22" lengthAdjust="spacingAndGlyphs">5</text>
<line x1="28.05" y1="20.30" x2="31.55" y2="20.30" stroke="#000" stroke-width="0.75"/>
<text x="25.35" y="23.95" font-size="10.25" text-anchor="end" textLength="6.22" lengthAdjust="spacingAndGlyphs">6</text>
<text x="127.65" y="9.20" font-size="10.25" text-anchor="middle" textLength="119.66" lengthAdjust="spacingAndGlyphs">Coronary Artery Disease</text>
<text x="127.65" y="258.80" font-size="10.25" text-anchor="middle" textLength="65.71" lengthAdjust="spacingAndGlyphs">Jaccard Index</text>
<path d="M270.50,231.20 L270.50,200.50 L270.7,199.9 L270.9,199.2 L271.1,198.6 L271.3,198.0 L271.5,197.3 L271.7,196.7 L271.9,196.1 L272.1,195.4 L272.3,194.8 L272.5,194.2 L272.7,193.5 L272.9,192.9 L273.1,192.3 L273.3,191.6 L273.5,191.0 L273.7,190.4 L273.9,189.7 L274.1,189.1 L274.3,188.5 L274.5,187.8 L274.7,187.2 L274.8,186.5 L275.0,185.9 L275.2,185.3 L275.4,184.6 L275.6,184.0 L275.8,183.4 L276.0,182.7 L276.2,182.1 L276.4,181.4 L276.6,180.8 L276.8,180.2 L277.0,179.5 L277.2,178.9 L277.4,178.3 L277.6,177.6 L277.8,177.0 L278.0,176.3 L278.2,175.7 L278.4,175.1 L278.6,174.4 L278.8,173.8 L279.0,173.1 L279.2,172.5 L279.4,171.9 L279.6,171.2 L279.8,170.6 L280.0,169.9 L280.2,169.3 L280.3,168.7 L280.5,168.0 L280.7,167.4 L280.9,166.7 L281.1,166.1 L281.3,165.5 L281.5,164.8 L281.7,164.2 L281.9,163.5 L282.0,162.9 L282.2,162.3 L282.4,161.6 L282.6,161.0 L282.8,160.3 L283.0,159.7 L283.1,159.0 L283.3,158.4 L283.5,157.8 L283.7,157.1 L283.9,156.5 L284.0,155.8 L284.2,155.2 L284.4,154.6 L284.6,153.9 L284.8,153.3 L284.9,152.6 L285.1,152.0 L285.3,151.3 L285.5,150.7 L285.6,150.1 L285.8,149.4 L286.0,148.8 L286.1,148.1 L286.3,147.5 L286.5,146.9 L286.7,146.2 L286.8,145.6 L287.0,144.9 L287.2,144.3 L287.4,143.6 L287.5,143.0 L287.7,142.4 L287.9,141.7 L288.0,141.1 L288.2,140.4 L288.4,139.8 L288.6,139.2 L288.7,138.5 L288.9,137.9 L289.1,137.2 L289.3,136.6 L289.4,136.0 L289.6,135.3 L289.8,134.7 L290.0,134.0 L290.1,133.4 L290.3,132.8 L290.5,132.1 L290.7,131.5 L290.9,130.8 L291.0,130.2 L291.2,129.6 L291.4,128.9 L291.6,128.3 L291.8,127.6 L291.9,127.0 L292.1,126.4 L292.3,125.7 L292.5,125.1 L292.7,124.4 L292.9,123.8 L293.1,123.2 L293.3,122.5 L293.5,121.9 L293.7,121.3 L293.9,120.6 L294.1,120.0 L294.3,119.4 L294.5,118.7 L294.7,118.1 L294.9,117.4 L295.1,116.8 L295.3,116.2 L295.5,115.5 L295.7,114.9 L295.9,114.3 L296.1,113.6 L296.3,113.0 L296.6,112.4 L296.8,111.7 L297.0,111.1 L297.2,110.5 L297.4,109.8 L297.7,109.2 L297.9,108.6 L298.1,107.9 L298.4,107.3 L298.6,106.7 L298.8,106.0 L299.1,105.4 L299.3,104.8 L299.6,104.1 L299.8,103.5 L300.1,102.9 L300.3,102.3 L300.6,101.6 L300.8,101.0 L301.1,100.4 L301.3,99.7 L301.6,99.1 L301.9,98.5 L302.2,97.9 L302.5,97.3 L302.8,96.7 L303.1,96.1 L303.4,95.5 L303.8,95.0 L304.1,94.4 L304.5,93.9 L304.9,93.4 L305.4,93.0 L305.9,92.5 L306.4,92.1 L306.9,91.8 L307.4,91.4 L308.0,91.1 L308.7,90.9 L309.3,90.7 L310.0,90.5 L310.6,90.4 L311.3,90.4 L311.9,90.5 L312.5,90.6 L313.1,90.8 L313.7,91.0 L314.3,91.3 L314.9,91.7 L315.4,92.1 L315.9,92.5 L316.4,93.0 L316.9,93.5 L317.4,94.0 L317.8,94.5 L318.2,95.1 L318.6,95.6 L319.0,96.2 L319.3,96.8 L319.7,97.3 L320.0,97.9 L320.3,98.5 L320.6,99.1 L320.9,99.7 L321.2,100.3 L321.5,100.9 L321.8,101.5 L322.1,102.1 L322.4,102.7 L322.7,103.3 L323.0,103.9 L323.2,104.5 L323.5,105.2 L323.8,105.8 L324.1,106.4 L324.3,107.0 L324.6,107.6 L324.9,108.2 L325.1,108.8 L325.4,109.4 L325.6,110.1 L325.9,110.7 L326.1,111.3 L326.4,111.9 L326.6,112.5 L326.9,113.1 L327.1,113.8 L327.4,114.4 L327.6,115.0 L327.8,115.6 L328.1,116.3 L328.3,116.9 L328.5,117.5 L328.8,118.1 L329.0,118.8 L329.2,119.4 L329.4,120.0 L329.7,120.6 L329.9,121.3 L330.1,121.9 L330.3,122.5 L330.5,123.2 L330.7,123.8 L331.0,124.4 L331.2,125.0 L331.4,125.7 L331.6,126.3 L331.8,126.9 L332.0,127.6 L332.2,128.2 L332.4,128.8 L332.6,129.5 L332.8,130.1 L333.0,130.7 L333.2,131.4 L333.4,132.0 L333.6,132.7 L333.8,133.3 L334.0,133.9 L334.2,134.6 L334.4,135.2 L334.6,135.8 L334.8,136.5 L335.0,137.1 L335.2,137.8 L335.4,138.4 L335.5,139.0 L335.7,139.7 L335.9,140.3 L336.1,140.9 L336.3,141.6 L336.5,142.2 L336.7,142.9 L336.9,143.5 L337.1,144.1 L337.2,144.8 L337.4,145.4 L337.6,146.1 L337.8,146.7 L338.0,147.3 L338.2,148.0 L338.4,148.6 L338.5,149.3 L338.7,149.9 L338.9,150.5 L339.1,151.2 L339.3,151.8 L339.5,152.5 L339.7,153.1 L339.9,153.7 L340.1,154.4 L340.2,155.0 L340.4,155.7 L340.6,156.3 L340.8,156.9 L341.0,157.6 L341.2,158.2 L341.4,158.9 L341.6,159.5 L341.8,160.1 L342.0,160.8 L342.2,161.4 L342.4,162.0 L342.6,162.7 L342.8,163.3 L343.0,163.9 L343.2,164.6 L343.4,165.2 L343.6,165.9 L343.8,166.5 L344.0,167.1 L344.2,167.8 L344.4,168.4 L344.6,169.0 L344.8,169.7 L345.0,170.3 L345.2,170.9 L345.4,171.5 L345.6,172.2 L345.8,172.8 L346.1,173.4 L346.3,174.1 L346.5,174.7 L346.7,175.3 L346.9,176.0 L347.2,176.6 L347.4,177.2 L347.6,177.8 L347.8,178.5 L348.1,179.1 L348.3,179.7 L348.5,180.3 L348.8,181.0 L349.0,181.6 L349.2,182.2 L349.5,182.8 L349.7,183.5 L350.0,184.1 L350.2,184.7 L350.4,185.3 L350.7,185.9 L350.9,186.6 L351.2,187.2 L351.4,187.8 L351.7,188.4 L352.0,189.0 L352.2,189.6 L352.5,190.2 L352.7,190.9 L353.0,191.5 L353.3,192.1 L353.6,192.7 L353.8,193.3 L354.1,193.9 L354.4,194.5 L354.7,195.1 L355.0,195.7 L355.3,196.3 L355.7,196.8 L356.0,197.4 L356.3,198.0 L356.6,198.6 L357.0,199.2 L357.3,199.7 L357.7,200.3 L358.1,200.8 L358.4,201.4 L358.8,201.9 L359.2,202.5 L359.6,203.0 L360.1,203.5 L360.5,204.1 L360.9,204.6 L361.4,205.1 L361.8,205.6 L362.3,206.1 L362.8,206.5 L363.3,207.0 L363.8,207.5 L364.3,207.9 L364.8,208.3 L365.4,208.7 L365.9,209.1 L366.5,209.4 L367.0,209.7 L367.6,210.0 L368.2,210.3 L368.8,210.5 L369.4,210.7 L370.0,210.9 L370.6,211.1 L371.2,211.2 L371.8,211.3 L372.5,211.3 L373.1,211.3 L373.8,211.3 L374.5,211.2 L375.1,211.1 L375.8,211.0 L376.5,210.9 L377.2,210.8 L377.9,210.7 L378.6,210.5 L379.2,210.3 L379.9,210.2 L380.6,210.0 L381.3,209.9 L382.0,209.7 L382.7,209.6 L383.4,209.5 L384.1,209.3 L384.7,209.2 L385.4,209.2 L386.1,209.1 L386.7,209.1 L387.4,209.1 L388.0,209.1 L388.7,209.2 L389.3,209.2 L390.0,209.3 L390.6,209.4 L391.2,209.6 L391.8,209.7 L392.4,209.9 L393.1,210.0 L393.7,210.2 L394.3,210.5 L394.9,210.7 L395.5,210.9 L396.1,211.2 L396.7,211.5 L397.2,211.7 L397.8,212.0 L398.4,212.3 L399.0,212.7 L399.6,213.0 L400.1,213.3 L400.7,213.7 L401.3,214.0 L401.9,214.4 L402.4,214.8 L403.0,215.1 L403.6,215.5 L404.1,215.9 L404.7,216.3 L405.2,216.7 L405.8,217.1 L406.4,217.5 L406.9,217.9 L407.5,218.3 L408.0,218.7 L408.6,219.1 L409.1,219.4 L409.7,219.8 L410.3,220.2 L410.8,220.6 L411.4,221.0 L411.9,221.4 L412.5,221.7 L413.0,222.1 L413.6,222.5 L414.2,222.8 L414.7,223.2 L415.3,223.5 L415.9,223.9 L416.4,224.2 L417.0,224.5 L417.6,224.9 L418.2,225.2 L418.7,225.5 L419.3,225.8 L419.9,226.1 L420.5,226.3 L421.1,226.6 L421.7,226.9 L422.3,227.1 L422.9,227.4 L423.5,227.6 L424.1,227.8 L424.7,228.1 L425.4,228.3 L426.0,228.5 L426.6,228.7 L427.3,228.8 L427.9,229.0 L428.5,229.1 L429.2,229.3 L429.9,229.4 L430.5,229.5 L431.2,229.7 L431.9,229.8 L432.5,229.9 L433.2,230.0 L433.9,230.0 L434.6,230.1 L435.2,230.2 L435.9,230.3 L436.6,230.3 L437.3,230.4 L437.9,230.4 L438.6,230.5 L439.3,230.5 L440.0,230.6 L440.6,230.6 L441.3,230.7 L442.0,230.7 L442.6,230.8 L443.3,230.8 L443.9,230.9 L444.6,230.9 L445.2,231.0 L270.50,231.20 Z" fill="rgb(204,210,225)" stroke="none"/>
<path d="M270.50,231.20 L270.50,200.50 L270.7,199.9 L270.9,199.2 L271.1,198.6 L271.3,198.0 L271.5,197.3 L271.7,196.7 L271.9,196.1 L272.1,195.4 L272.3,194.8 L272.5,194.2 L272.7,193.5 L272.9,192.9 L273.1,192.3 L273.3,191.6 L273.5,191.0 L273.7,190.4 L273.9,189.7 L274.1,189.1 L274.3,188.5 L274.5,187.8 L274.7,187.2 L274.8,186.5 L275.0,185.9 L275.2,185.3 L275.4,184.6 L275.6,184.0 L275.8,183.4 L276.0,182.7 L276.2,182.1 L276.4,181.4 L276.6,180.8 L276.8,180.2 L277.0,179.5 L277.2,178.9 L277.4,178.3 L277.6,177.6 L277.8,177.0 L278.0,176.3 L278.2,175.7 L278.4,175.1 L278.6,174.4 L278.8,173.8 L279.0,173.1 L279.2,172.5 L279.4,171.9 L279.6,171.2 L279.8,170.6 L280.0,169.9 L280.2,169.3 L280.3,168.7 L280.5,168.0 L280.7,167.4 L280.9,166.7 L281.1,166.1 L281.3,165.5 L281.5,164.8 L281.7,164.2 L281.9,163.5 L282.0,162.9 L282.2,162.3 L282.4,161.6 L282.6,161.0 L282.8,160.3 L283.0,159.7 L283.1,159.0 L283.3,158.4 L283.5,157.8 L283.7,157.1 L283.9,156.5 L284.0,155.8 L284.2,155.2 L284.4,154.6 L284.6,153.9 L284.8,153.3 L284.9,152.6 L285.1,152.0 L285.3,151.3 L285.5,150.7 L285.6,150.1 L285.8,149.4 L286.0,148.8 L286.1,148.1 L286.3,147.5 L286.5,146.9 L286.7,146.2 L286.8,145.6 L287.0,144.9 L287.2,144.3 L287.4,143.6 L287.5,143.0 L287.7,142.4 L287.9,141.7 L288.0,141.1 L288.2,140.4 L288.4,139.8 L288.6,139.2 L288.7,138.5 L288.9,137.9 L289.1,137.2 L289.3,136.6 L289.4,136.0 L289.6,135.3 L289.8,134.7 L290.0,134.0 L290.1,133.4 L290.3,132.8 L290.5,132.1 L290.7,131.5 L290.9,130.8 L291.0,130.2 L291.2,129.6 L291.4,128.9 L291.6,128.3 L291.8,127.6 L291.9,127.0 L292.1,126.4 L292.3,125.7 L292.5,125.1 L292.7,124.4 L292.9,123.8 L293.1,123.2 L293.3,122.5 L293.5,121.9 L293.7,121.3 L293.9,120.6 L294.1,120.0 L294.3,119.4 L294.5,118.7 L294.7,118.1 L294.9,117.4 L295.1,116.8 L295.3,116.2 L295.5,115.5 L295.7,114.9 L295.9,114.3 L296.1,113.6 L296.3,113.0 L296.6,112.4 L296.8,111.7 L297.0,111.1 L297.2,110.5 L297.4,109.8 L297.7,109.2 L297.9,108.6 L298.1,107.9 L298.4,107.3 L298.6,106.7 L298.8,106.0 L299.1,105.4 L299.3,104.8 L299.6,104.1 L299.8,103.5 L300.1,102.9 L300.3,102.3 L300.6,101.6 L300.8,101.0 L301.1,100.4 L301.3,99.7 L301.6,99.1 L301.9,98.5 L302.2,97.9 L302.5,97.3 L302.8,96.7 L303.1,96.1 L303.4,95.5 L303.8,95.0 L304.1,94.4 L304.5,93.9 L304.9,93.4 L305.4,93.0 L305.9,92.5 L306.4,92.1 L306.9,91.8 L307.4,91.4 L308.0,91.1 L308.7,90.9 L309.3,90.7 L310.0,90.5 L310.6,90.4 L311.3,90.4 L311.9,90.5 L312.5,90.6 L313.1,90.8 L313.7,91.0 L314.3,91.3 L314.9,91.7 L315.4,92.1 L315.9,92.5 L316.4,93.0 L316.9,93.5 L317.4,94.0 L317.8,94.5 L318.2,95.1 L318.6,95.6 L319.0,96.2 L319.3,96.8 L319.7,97.3 L320.0,97.9 L320.3,98.5 L320.6,99.1 L320.9,99.7 L321.2,100.3 L321.5,100.9 L321.8,101.5 L322.1,102.1 L322.4,102.7 L322.7,103.3 L323.0,103.9 L323.2,104.5 L323.5,105.2 L323.8,105.8 L324.1,106.4 L324.3,107.0 L324.6,107.6 L324.9,108.2 L325.1,108.8 L325.4,109.4 L325.6,110.1 L325.9,110.7 L326.1,111.3 L326.4,111.9 L326.6,112.5 L326.9,113.1 L327.1,113.8 L327.4,114.4 L327.6,115.0 L327.8,115.6 L328.1,116.3 L328.3,116.9 L328.5,117.5 L328.8,118.1 L329.0,118.8 L329.2,119.4 L329.4,120.0 L329.7,120.6 L329.9,121.3 L330.1,121.9 L330.3,122.5 L330.5,123.2 L330.7,123.8 L331.0,124.4 L331.2,125.0 L331.4,125.7 L331.6,126.3 L331.8,126.9 L332.0,127.6 L332.2,128.2 L332.4,128.8 L332.6,129.5 L332.8,130.1 L333.0,130.7 L333.2,131.4 L333.4,132.0 L333.6,132.7 L333.8,133.3 L334.0,133.9 L334.2,134.6 L334.4,135.2 L334.6,135.8 L334.8,136.5 L335.0,137.1 L335.2,137.8 L335.4,138.4 L335.5,139.0 L335.7,139.7 L335.9,140.3 L336.1,140.9 L336.3,141.6 L336.5,142.2 L336.7,142.9 L336.9,143.5 L337.1,144.1 L337.2,144.8 L337.4,145.4 L337.6,146.1 L337.8,146.7 L338.0,147.3 L338.2,148.0 L338.4,148.6 L338.5,149.3 L338.7,149.9 L338.9,150.5 L339.1,151.2 L339.3,151.8 L339.5,152.5 L339.7,153.1 L339.9,153.7 L340.1,154.4 L340.2,155.0 L340.4,155.7 L340.6,156.3 L340.8,156.9 L341.0,157.6 L341.2,158.2 L341.4,158.9 L341.6,159.5 L341.8,160.1 L342.0,160.8 L342.2,161.4 L342.4,162.0 L342.6,162.7 L342.8,163.3 L343.0,163.9 L343.2,164.6 L343.4,165.2 L343.6,165.9 L343.8,166.5 L344.0,167.1 L344.2,167.8 L344.4,168.4 L344.6,169.0 L344.8,169.7 L345.0,170.3 L345.2,170.9 L345.4,171.5 L345.6,172.2 L345.8,172.8 L346.1,173.4 L346.3,174.1 L346.5,174.7 L346.7,175.3 L346.9,176.0 L347.2,176.6 L347.4,177.2 L347.6,177.8 L347.8,178.5 L348.1,179.1 L348.3,179.7 L348.5,180.3 L348.8,181.0 L349.0,181.6 L349.2,182.2 L349.5,182.8 L349.7,183.5 L350.0,184.1 L350.2,184.7 L350.4,185.3 L350.7,185.9 L350.9,186.6 L351.2,187.2 L351.4,187.8 L351.7,188.4 L352.0,189.0 L352.2,189.6 L352.5,190.2 L352.7,190.9 L353.0,191.5 L353.3,192.1 L353.6,192.7 L353.8,193.3 L354.1,193.9 L354.4,194.5 L354.7,195.1 L355.0,195.7 L355.3,196.3 L355.7,196.8 L356.0,197.4 L356.3,198.0 L356.6,198.6 L357.0,199.2 L357.3,199.7 L357.7,200.3 L358.1,200.8 L358.4,201.4 L358.8,201.9 L359.2,202.5 L359.6,203.0 L360.1,203.5 L360.5,204.1 L360.9,204.6 L361.4,205.1 L361.8,205.6 L362.3,206.1 L362.8,206.5 L363.3,207.0 L363.8,207.5 L364.3,207.9 L364.8,208.3 L365.4,208.7 L365.9,209.1 L366.5,209.4 L367.0,209.7 L367.6,210.0 L368.2,210.3 L368.8,210.5 L369.4,210.7 L370.0,210.9 L370.6,211.1 L371.2,211.2 L371.8,211.3 L372.5,211.3 L373.1,211.3 L373.8,211.3 L374.5,211.2 L375.1,211.1 L375.8,211.0 L376.5,210.9 L377.2,210.8 L377.9,210.7 L378.6,210.5 L379.2,210.3 L379.9,210.2 L380.6,210.0 L381.3,209.9 L382.0,209.7 L382.7,209.6 L383.4,209.5 L384.1,209.3 L384.7,209.2 L385.4,209.2 L386.1,209.1 L386.7,209.1 L387.4,209.1 L388.0,209.1 L388.7,209.2 L389.3,209.2 L390.0,209.3 L390.6,209.4 L391.2,209.6 L391.8,209.7 L392.4,209.9 L393.1,210.0 L393.7,210.2 L394.3,210.5 L394.9,210.7 L395.5,210.9 L396.1,211.2 L396.7,211.5 L397.2,211.7 L397.8,212.0 L398.4,212.3 L399.0,212.7 L399.6,213.0 L400.1,213.3 L400.7,213.7 L401.3,214.0 L401.9,214.4 L402.4,214.8 L403.0,215.1 L403.6,215.5 L404.1,215.9 L404.7,216.3 L405.2,216.7 L405.8,217.1 L406.4,217.5 L406.9,217.9 L407.5,218.3 L408.0,218.7 L408.6,219.1 L409.1,219.4 L409.7,219.8 L410.3,220.2 L410.8,220.6 L411.4,221.0 L411.9,221.4 L412.5,221.7 L413.0,222.1 L413.6,222.5 L414.2,222.8 L414.7,223.2 L415.3,223.5 L415.9,223.9 L416.4,224.2 L417.0,224.5 L417.6,224.9 L418.2,225.2 L418.7,225.5 L419.3,225.8 L419.9,226.1 L420.5,226.3 L421.1,226.6 L421.7,226.9 L422.3,227.1 L422.9,227.4 L423.5,227.6 L424.1,227.8 L424.7,228.1 L425.4,228.3 L426.0,228.5 L426.6,228.7 L427.3,228.8 L427.9,229.0 L428.5,229.1 L429.2,229.3 L429.9,229.4 L430.5,229.5 L431.2,229.7 L431.9,229.8 L432.5,229.9 L433.2,230.0 L433.9,230.0 L434.6,230.1 L435.2,230.2 L435.9,230.3 L436.6,230.3 L437.3,230.4 L437.9,230.4 L438.6,230.5 L439.3,230.5 L440.0,230.6 L440.6,230.6 L441.3,230.7 L442.0,230.7 L442.6,230.8 L443.3,230.8 L443.9,230.9 L444.6,230.9 L445.2,231.0" fill="none" stroke="#4b6198" stroke-width="1.25" stroke-linejoin="round"/>
<path d="M351.10,231.20 L351.8,231.0 L352.5,230.8 L353.1,230.6 L353.8,230.4 L354.4,230.1 L355.0,229.8 L355.6,229.5 L356.2,229.2 L356.8,228.8 L357.3,228.5 L357.8,228.1 L358.4,227.7 L358.9,227.3 L359.3,226.9 L359.8,226.4 L360.3,226.0 L360.7,225.5 L361.2,225.0 L361.6,224.5 L362.0,224.0 L362.4,223.5 L362.8,223.0 L363.1,222.4 L363.5,221.9 L363.9,221.3 L364.2,220.7 L364.5,220.2 L364.9,219.6 L365.2,219.0 L365.5,218.4 L365.8,217.8 L366.1,217.2 L366.4,216.6 L366.6,216.0 L366.9,215.3 L367.2,214.7 L367.4,214.1 L367.7,213.5 L367.9,212.9 L368.2,212.2 L368.4,211.6 L368.7,211.0 L368.9,210.4 L369.1,209.7 L369.3,209.1 L369.5,208.5 L369.7,207.8 L369.9,207.2 L370.1,206.5 L370.3,205.9 L370.5,205.3 L370.7,204.6 L370.8,204.0 L371.0,203.3 L371.2,202.7 L371.3,202.0 L371.5,201.4 L371.6,200.7 L371.8,200.1 L371.9,199.4 L372.0,198.8 L372.2,198.1 L372.3,197.5 L372.4,196.8 L372.5,196.2 L372.6,195.5 L372.7,194.9 L372.8,194.2 L372.9,193.5 L373.0,192.9 L373.1,192.2 L373.2,191.6 L373.3,190.9 L373.4,190.3 L373.5,189.6 L373.6,188.9 L373.7,188.3 L373.7,187.6 L373.8,187.0 L373.9,186.3 L374.0,185.6 L374.1,185.0 L374.2,184.3 L374.2,183.7 L374.3,183.0 L374.4,182.3 L374.5,181.7 L374.6,181.0 L374.6,180.4 L374.7,179.7 L374.8,179.0 L374.9,178.4 L375.0,177.7 L375.1,177.1 L375.2,176.4 L375.3,175.7 L375.3,175.1 L375.4,174.4 L375.5,173.8 L375.6,173.1 L375.7,172.4 L375.8,171.8 L375.9,171.1 L376.0,170.5 L376.1,169.8 L376.2,169.1 L376.3,168.5 L376.4,167.8 L376.5,167.2 L376.6,166.5 L376.8,165.9 L376.9,165.2 L377.0,164.5 L377.1,163.9 L377.2,163.2 L377.3,162.6 L377.4,161.9 L377.5,161.3 L377.7,160.6 L377.8,159.9 L377.9,159.3 L378.0,158.6 L378.1,158.0 L378.2,157.3 L378.3,156.7 L378.5,156.0 L378.6,155.3 L378.7,154.7 L378.8,154.0 L378.9,153.4 L379.0,152.7 L379.2,152.1 L379.3,151.4 L379.4,150.7 L379.5,150.1 L379.6,149.4 L379.7,148.8 L379.9,148.1 L380.0,147.5 L380.1,146.8 L380.2,146.1 L380.3,145.5 L380.4,144.8 L380.6,144.2 L380.7,143.5 L380.8,142.9 L380.9,142.2 L381.0,141.5 L381.1,140.9 L381.2,140.2 L381.3,139.6 L381.4,138.9 L381.5,138.3 L381.6,137.6 L381.8,136.9 L381.9,136.3 L382.0,135.6 L382.1,135.0 L382.2,134.3 L382.3,133.7 L382.4,133.0 L382.5,132.3 L382.6,131.7 L382.6,131.0 L382.7,130.4 L382.8,129.7 L382.9,129.0 L383.0,128.4 L383.1,127.7 L383.2,127.1 L383.3,126.4 L383.4,125.7 L383.5,125.1 L383.5,124.4 L383.6,123.8 L383.7,123.1 L383.8,122.4 L383.9,121.8 L384.0,121.1 L384.0,120.5 L384.1,119.8 L384.2,119.1 L384.3,118.5 L384.3,117.8 L384.4,117.2 L384.5,116.5 L384.6,115.8 L384.7,115.2 L384.7,114.5 L384.8,113.9 L384.9,113.2 L385.0,112.5 L385.0,111.9 L385.1,111.2 L385.2,110.6 L385.2,109.9 L385.3,109.2 L385.4,108.6 L385.5,107.9 L385.5,107.2 L385.6,106.6 L385.7,105.9 L385.8,105.3 L385.8,104.6 L385.9,103.9 L386.0,103.3 L386.0,102.6 L386.1,101.9 L386.2,101.3 L386.2,100.6 L386.3,99.9 L386.4,99.3 L386.5,98.6 L386.5,98.0 L386.6,97.3 L386.7,96.6 L386.7,96.0 L386.8,95.3 L386.9,94.6 L387.0,94.0 L387.0,93.3 L387.1,92.6 L387.2,92.0 L387.2,91.3 L387.3,90.6 L387.4,90.0 L387.5,89.3 L387.5,88.7 L387.6,88.0 L387.7,87.3 L387.7,86.7 L387.8,86.0 L387.9,85.3 L388.0,84.7 L388.0,84.0 L388.1,83.3 L388.2,82.7 L388.3,82.0 L388.3,81.4 L388.4,80.7 L388.5,80.0 L388.6,79.4 L388.6,78.7 L388.7,78.0 L388.8,77.4 L388.9,76.7 L388.9,76.0 L389.0,75.4 L389.1,74.7 L389.2,74.1 L389.3,73.4 L389.3,72.7 L389.4,72.1 L389.5,71.4 L389.6,70.7 L389.7,70.1 L389.7,69.4 L389.8,68.8 L389.9,68.1 L390.0,67.4 L390.1,66.8 L390.2,66.1 L390.3,65.5 L390.3,64.8 L390.4,64.1 L390.5,63.5 L390.6,62.8 L390.7,62.2 L390.8,61.5 L390.9,60.8 L391.0,60.2 L391.1,59.5 L391.1,58.9 L391.2,58.2 L391.3,57.6 L391.4,56.9 L391.5,56.2 L391.6,55.6 L391.7,54.9 L391.8,54.3 L391.9,53.6 L392.0,53.0 L392.1,52.3 L392.2,51.7 L392.3,51.0 L392.4,50.4 L392.5,49.7 L392.6,49.0 L392.7,48.4 L392.8,47.7 L393.0,47.1 L393.1,46.4 L393.2,45.8 L393.3,45.1 L393.4,44.5 L393.5,43.8 L393.6,43.2 L393.7,42.5 L393.9,41.9 L394.0,41.2 L394.1,40.6 L394.2,39.9 L394.3,39.3 L394.5,38.7 L394.6,38.0 L394.7,37.4 L394.9,36.7 L395.0,36.1 L395.2,35.4 L395.3,34.8 L395.5,34.1 L395.7,33.4 L395.9,32.8 L396.2,32.1 L396.4,31.4 L396.7,30.8 L397.0,30.1 L397.3,29.4 L397.7,28.7 L398.1,28.0 L398.5,27.4 L398.9,26.9 L399.3,26.4 L399.7,26.0 L400.2,25.8 L400.6,25.7 L401.1,25.8 L401.5,26.1 L402.0,26.4 L402.4,26.9 L402.8,27.5 L403.2,28.1 L403.6,28.8 L404.0,29.4 L404.3,30.1 L404.6,30.8 L404.9,31.5 L405.2,32.2 L405.4,32.8 L405.6,33.5 L405.8,34.2 L406.0,34.8 L406.2,35.5 L406.4,36.1 L406.5,36.8 L406.7,37.4 L406.8,38.0 L406.9,38.7 L407.0,39.3 L407.2,40.0 L407.3,40.6 L407.4,41.3 L407.5,41.9 L407.6,42.6 L407.8,43.2 L407.9,43.9 L408.0,44.5 L408.1,45.2 L408.2,45.8 L408.3,46.5 L408.4,47.1 L408.5,47.8 L408.6,48.4 L408.7,49.1 L408.8,49.7 L409.0,50.4 L409.1,51.0 L409.2,51.7 L409.3,52.3 L409.3,53.0 L409.4,53.6 L409.5,54.3 L409.6,54.9 L409.7,55.6 L409.8,56.3 L409.9,56.9 L410.0,57.6 L410.1,58.2 L410.2,58.9 L410.3,59.5 L410.4,60.2 L410.5,60.9 L410.5,61.5 L410.6,62.2 L410.7,62.8 L410.8,63.5 L410.9,64.2 L411.0,64.8 L411.1,65.5 L411.1,66.1 L411.2,66.8 L411.3,67.5 L411.4,68.1 L411.5,68.8 L411.6,69.4 L411.6,70.1 L411.7,70.8 L411.8,71.4 L411.9,72.1 L412.0,72.8 L412.0,73.4 L412.1,74.1 L412.2,74.7 L412.3,75.4 L412.4,76.1 L412.4,76.7 L412.5,77.4 L412.6,78.1 L412.7,78.7 L412.7,79.4 L412.8,80.1 L412.9,80.7 L413.0,81.4 L413.1,82.0 L413.1,82.7 L413.2,83.4 L413.3,84.0 L413.4,84.7 L413.5,85.4 L413.5,86.0 L413.6,86.7 L413.7,87.4 L413.8,88.0 L413.9,88.7 L413.9,89.3 L414.0,90.0 L414.1,90.7 L414.2,91.3 L414.2,92.0 L414.3,92.7 L414.4,93.3 L414.5,94.0 L414.6,94.7 L414.6,95.3 L414.7,96.0 L414.8,96.6 L414.9,97.3 L415.0,98.0 L415.0,98.6 L415.1,99.3 L415.2,100.0 L415.3,100.6 L415.4,101.3 L415.4,102.0 L415.5,102.6 L415.6,103.3 L415.7,103.9 L415.8,104.6 L415.8,105.3 L415.9,105.9 L416.0,106.6 L416.1,107.3 L416.2,107.9 L416.3,108.6 L416.3,109.2 L416.4,109.9 L416.5,110.6 L416.6,111.2 L416.7,111.9 L416.8,112.5 L416.8,113.2 L416.9,113.9 L417.0,114.5 L417.1,115.2 L417.2,115.9 L417.3,116.5 L417.3,117.2 L417.4,117.8 L417.5,118.5 L417.6,119.2 L417.7,119.8 L417.8,120.5 L417.9,121.1 L418.0,121.8 L418.0,122.4 L418.1,123.1 L418.2,123.8 L418.3,124.4 L418.4,125.1 L418.5,125.7 L418.6,126.4 L418.7,127.0 L418.8,127.7 L418.9,128.4 L419.0,129.0 L419.0,129.7 L419.1,130.3 L419.2,131.0 L419.3,131.6 L419.4,132.3 L419.5,132.9 L419.6,133.6 L419.7,134.3 L419.8,134.9 L419.9,135.6 L420.0,136.2 L420.1,136.9 L420.2,137.5 L420.3,138.2 L420.4,138.8 L420.5,139.5 L420.6,140.1 L420.7,140.8 L420.8,141.4 L420.9,142.1 L421.0,142.7 L421.1,143.4 L421.2,144.0 L421.4,144.7 L421.5,145.3 L421.6,146.0 L421.7,146.6 L421.8,147.3 L421.9,147.9 L422.1,148.6 L422.2,149.3 L422.3,149.9 L422.4,150.6 L422.6,151.2 L422.7,151.9 L422.8,152.5 L423.0,153.2 L423.1,153.8 L423.3,154.5 L423.4,155.1 L423.6,155.8 L423.7,156.5 L423.9,157.1 L424.0,157.8 L424.2,158.4 L424.4,159.1 L424.5,159.8 L424.7,160.4 L424.9,161.1 L425.1,161.8 L425.2,162.4 L425.4,163.1 L425.6,163.8 L425.8,164.4 L426.0,165.1 L426.2,165.8 L426.4,166.4 L426.7,167.1 L426.9,167.7 L427.2,168.3 L427.4,168.9 L427.7,169.5 L428.0,170.1 L428.4,170.7 L428.7,171.2 L429.1,171.7 L429.5,172.1 L429.9,172.6 L430.4,172.9 L430.9,173.3 L431.4,173.6 L432.0,173.9 L432.6,174.0 L433.2,174.2 L433.8,174.2 L434.4,174.1 L435.0,174.0 L435.6,173.7 L436.1,173.3 L436.7,172.9 L437.2,172.4 L437.8,171.8 L438.3,171.3 L438.9,170.8 L439.4,170.4 L439.9,169.9 L440.5,169.5 L441.0,169.2 L441.6,168.9 L442.2,168.7 L442.8,168.5 L443.4,168.4 L444.1,168.5 L444.7,168.6 L445.5,168.8 L445.45,231.20 L351.10,231.20 Z" fill="rgba(226,28,32,0.29)" stroke="none"/>
<path d="M351.10,231.20 L351.8,231.0 L352.5,230.8 L353.1,230.6 L353.8,230.4 L354.4,230.1 L355.0,229.8 L355.6,229.5 L356.2,229.2 L356.8,228.8 L357.3,228.5 L357.8,228.1 L358.4,227.7 L358.9,227.3 L359.3,226.9 L359.8,226.4 L360.3,226.0 L360.7,225.5 L361.2,225.0 L361.6,224.5 L362.0,224.0 L362.4,223.5 L362.8,223.0 L363.1,222.4 L363.5,221.9 L363.9,221.3 L364.2,220.7 L364.5,220.2 L364.9,219.6 L365.2,219.0 L365.5,218.4 L365.8,217.8 L366.1,217.2 L366.4,216.6 L366.6,216.0 L366.9,215.3 L367.2,214.7 L367.4,214.1 L367.7,213.5 L367.9,212.9 L368.2,212.2 L368.4,211.6 L368.7,211.0 L368.9,210.4 L369.1,209.7 L369.3,209.1 L369.5,208.5 L369.7,207.8 L369.9,207.2 L370.1,206.5 L370.3,205.9 L370.5,205.3 L370.7,204.6 L370.8,204.0 L371.0,203.3 L371.2,202.7 L371.3,202.0 L371.5,201.4 L371.6,200.7 L371.8,200.1 L371.9,199.4 L372.0,198.8 L372.2,198.1 L372.3,197.5 L372.4,196.8 L372.5,196.2 L372.6,195.5 L372.7,194.9 L372.8,194.2 L372.9,193.5 L373.0,192.9 L373.1,192.2 L373.2,191.6 L373.3,190.9 L373.4,190.3 L373.5,189.6 L373.6,188.9 L373.7,188.3 L373.7,187.6 L373.8,187.0 L373.9,186.3 L374.0,185.6 L374.1,185.0 L374.2,184.3 L374.2,183.7 L374.3,183.0 L374.4,182.3 L374.5,181.7 L374.6,181.0 L374.6,180.4 L374.7,179.7 L374.8,179.0 L374.9,178.4 L375.0,177.7 L375.1,177.1 L375.2,176.4 L375.3,175.7 L375.3,175.1 L375.4,174.4 L375.5,173.8 L375.6,173.1 L375.7,172.4 L375.8,171.8 L375.9,171.1 L376.0,170.5 L376.1,169.8 L376.2,169.1 L376.3,168.5 L376.4,167.8 L376.5,167.2 L376.6,166.5 L376.8,165.9 L376.9,165.2 L377.0,164.5 L377.1,163.9 L377.2,163.2 L377.3,162.6 L377.4,161.9 L377.5,161.3 L377.7,160.6 L377.8,159.9 L377.9,159.3 L378.0,158.6 L378.1,158.0 L378.2,157.3 L378.3,156.7 L378.5,156.0 L378.6,155.3 L378.7,154.7 L378.8,154.0 L378.9,153.4 L379.0,152.7 L379.2,152.1 L379.3,151.4 L379.4,150.7 L379.5,150.1 L379.6,149.4 L379.7,148.8 L379.9,148.1 L380.0,147.5 L380.1,146.8 L380.2,146.1 L380.3,145.5 L380.4,144.8 L380.6,144.2 L380.7,143.5 L380.8,142.9 L380.9,142.2 L381.0,141.5 L381.1,140.9 L381.2,140.2 L381.3,139.6 L381.4,138.9 L381.5,138.3 L381.6,137.6 L381.8,136.9 L381.9,136.3 L382.0,135.6 L382.1,135.0 L382.2,134.3 L382.3,133.7 L382.4,133.0 L382.5,132.3 L382.6,131.7 L382.6,131.0 L382.7,130.4 L382.8,129.7 L382.9,129.0 L383.0,128.4 L383.1,127.7 L383.2,127.1 L383.3,126.4 L383.4,125.7 L383.5,125.1 L383.5,124.4 L383.6,123.8 L383.7,123.1 L383.8,122.4 L383.9,121.8 L384.0,121.1 L384.0,120.5 L384.1,119.8 L384.2,119.1 L384.3,118.5 L384.3,117.8 L384.4,117.2 L384.5,116.5 L384.6,115.8 L384.7,115.2 L384.7,114.5 L384.8,113.9 L384.9,113.2 L385.0,112.5 L385.0,111.9 L385.1,111.2 L385.2,110.6 L385.2,109.9 L385.3,109.2 L385.4,108.6 L385.5,107.9 L385.5,107.2 L385.6,106.6 L385.7,105.9 L385.8,105.3 L385.8,104.6 L385.9,103.9 L386.0,103.3 L386.0,102.6 L386.1,101.9 L386.2,101.3 L386.2,100.6 L386.3,99.9 L386.4,99.3 L386.5,98.6 L386.5,98.0 L386.6,97.3 L386.7,96.6 L386.7,96.0 L386.8,95.3 L386.9,94.6 L387.0,94.0 L387.0,93.3 L387.1,92.6 L387.2,92.0 L387.2,91.3 L387.3,90.6 L387.4,90.0 L387.5,89.3 L387.5,88.7 L387.6,88.0 L387.7,87.3 L387.7,86.7 L387.8,86.0 L387.9,85.3 L388.0,84.7 L388.0,84.0 L388.1,83.3 L388.2,82.7 L388.3,82.0 L388.3,81.4 L388.4,80.7 L388.5,80.0 L388.6,79.4 L388.6,78.7 L388.7,78.0 L388.8,77.4 L388.9,76.7 L388.9,76.0 L389.0,75.4 L389.1,74.7 L389.2,74.1 L389.3,73.4 L389.3,72.7 L389.4,72.1 L389.5,71.4 L389.6,70.7 L389.7,70.1 L389.7,69.4 L389.8,68.8 L389.9,68.1 L390.0,67.4 L390.1,66.8 L390.2,66.1 L390.3,65.5 L390.3,64.8 L390.4,64.1 L390.5,63.5 L390.6,62.8 L390.7,62.2 L390.8,61.5 L390.9,60.8 L391.0,60.2 L391.1,59.5 L391.1,58.9 L391.2,58.2 L391.3,57.6 L391.4,56.9 L391.5,56.2 L391.6,55.6 L391.7,54.9 L391.8,54.3 L391.9,53.6 L392.0,53.0 L392.1,52.3 L392.2,51.7 L392.3,51.0 L392.4,50.4 L392.5,49.7 L392.6,49.0 L392.7,48.4 L392.8,47.7 L393.0,47.1 L393.1,46.4 L393.2,45.8 L393.3,45.1 L393.4,44.5 L393.5,43.8 L393.6,43.2 L393.7,42.5 L393.9,41.9 L394.0,41.2 L394.1,40.6 L394.2,39.9 L394.3,39.3 L394.5,38.7 L394.6,38.0 L394.7,37.4 L394.9,36.7 L395.0,36.1 L395.2,35.4 L395.3,34.8 L395.5,34.1 L395.7,33.4 L395.9,32.8 L396.2,32.1 L396.4,31.4 L396.7,30.8 L397.0,30.1 L397.3,29.4 L397.7,28.7 L398.1,28.0 L398.5,27.4 L398.9,26.9 L399.3,26.4 L399.7,26.0 L400.2,25.8 L400.6,25.7 L401.1,25.8 L401.5,26.1 L402.0,26.4 L402.4,26.9 L402.8,27.5 L403.2,28.1 L403.6,28.8 L404.0,29.4 L404.3,30.1 L404.6,30.8 L404.9,31.5 L405.2,32.2 L405.4,32.8 L405.6,33.5 L405.8,34.2 L406.0,34.8 L406.2,35.5 L406.4,36.1 L406.5,36.8 L406.7,37.4 L406.8,38.0 L406.9,38.7 L407.0,39.3 L407.2,40.0 L407.3,40.6 L407.4,41.3 L407.5,41.9 L407.6,42.6 L407.8,43.2 L407.9,43.9 L408.0,44.5 L408.1,45.2 L408.2,45.8 L408.3,46.5 L408.4,47.1 L408.5,47.8 L408.6,48.4 L408.7,49.1 L408.8,49.7 L409.0,50.4 L409.1,51.0 L409.2,51.7 L409.3,52.3 L409.3,53.0 L409.4,53.6 L409.5,54.3 L409.6,54.9 L409.7,55.6 L409.8,56.3 L409.9,56.9 L410.0,57.6 L410.1,58.2 L410.2,58.9 L410.3,59.5 L410.4,60.2 L410.5,60.9 L410.5,61.5 L410.6,62.2 L410.7,62.8 L410.8,63.5 L410.9,64.2 L411.0,64.8 L411.1,65.5 L411.1,66.1 L411.2,66.8 L411.3,67.5 L411.4,68.1 L411.5,68.8 L411.6,69.4 L411.6,70.1 L411.7,70.8 L411.8,71.4 L411.9,72.1 L412.0,72.8 L412.0,73.4 L412.1,74.1 L412.2,74.7 L412.3,75.4 L412.4,76.1 L412.4,76.7 L412.5,77.4 L412.6,78.1 L412.7,78.7 L412.7,79.4 L412.8,80.1 L412.9,80.7 L413.0,81.4 L413.1,82.0 L413.1,82.7 L413.2,83.4 L413.3,84.0 L413.4,84.7 L413.5,85.4 L413.5,86.0 L413.6,86.7 L413.7,87.4 L413.8,88.0 L413.9,88.7 L413.9,89.3 L414.0,90.0 L414.1,90.7 L414.2,91.3 L414.2,92.0 L414.3,92.7 L414.4,93.3 L414.5,94.0 L414.6,94.7 L414.6,95.3 L414.7,96.0 L414.8,96.6 L414.9,97.3 L415.0,98.0 L415.0,98.6 L415.1,99.3 L415.2,100.0 L415.3,100.6 L415.4,101.3 L415.4,102.0 L415.5,102.6 L415.6,103.3 L415.7,103.9 L415.8,104.6 L415.8,105.3 L415.9,105.9 L416.0,106.6 L416.1,107.3 L416.2,107.9 L416.3,108.6 L416.3,109.2 L416.4,109.9 L416.5,110.6 L416.6,111.2 L416.7,111.9 L416.8,112.5 L416.8,113.2 L416.9,113.9 L417.0,114.5 L417.1,115.2 L417.2,115.9 L417.3,116.5 L417.3,117.2 L417.4,117.8 L417.5,118.5 L417.6,119.2 L417.7,119.8 L417.8,120.5 L417.9,121.1 L418.0,121.8 L418.0,122.4 L418.1,123.1 L418.2,123.8 L418.3,124.4 L418.4,125.1 L418.5,125.7 L418.6,126.4 L418.7,127.0 L418.8,127.7 L418.9,128.4 L419.0,129.0 L419.0,129.7 L419.1,130.3 L419.2,131.0 L419.3,131.6 L419.4,132.3 L419.5,132.9 L419.6,133.6 L419.7,134.3 L419.8,134.9 L419.9,135.6 L420.0,136.2 L420.1,136.9 L420.2,137.5 L420.3,138.2 L420.4,138.8 L420.5,139.5 L420.6,140.1 L420.7,140.8 L420.8,141.4 L420.9,142.1 L421.0,142.7 L421.1,143.4 L421.2,144.0 L421.4,144.7 L421.5,145.3 L421.6,146.0 L421.7,146.6 L421.8,147.3 L421.9,147.9 L422.1,148.6 L422.2,149.3 L422.3,149.9 L422.4,150.6 L422.6,151.2 L422.7,151.9 L422.8,152.5 L423.0,153.2 L423.1,153.8 L423.3,154.5 L423.4,155.1 L423.6,155.8 L423.7,156.5 L423.9,157.1 L424.0,157.8 L424.2,158.4 L424.4,159.1 L424.5,159.8 L424.7,160.4 L424.9,161.1 L425.1,161.8 L425.2,162.4 L425.4,163.1 L425.6,163.8 L425.8,164.4 L426.0,165.1 L426.2,165.8 L426.4,166.4 L426.7,167.1 L426.9,167.7 L427.2,168.3 L427.4,168.9 L427.7,169.5 L428.0,170.1 L428.4,170.7 L428.7,171.2 L429.1,171.7 L429.5,172.1 L429.9,172.6 L430.4,172.9 L430.9,173.3 L431.4,173.6 L432.0,173.9 L432.6,174.0 L433.2,174.2 L433.8,174.2 L434.4,174.1 L435.0,174.0 L435.6,173.7 L436.1,173.3 L436.7,172.9 L437.2,172.4 L437.8,171.8 L438.3,171.3 L438.9,170.8 L439.4,170.4 L439.9,169.9 L440.5,169.5 L441.0,169.2 L441.6,168.9 L442.2,168.7 L442.8,168.5 L443.4,168.4 L444.1,168.5 L444.7,168.6 L445.5,168.8 L445.45,231.20" fill="none" stroke="#e21c20" stroke-width="1.25" stroke-linejoin="round"/>
<path d="M262.00,15.00 H454.20 V231.25 H262.00 Z" fill="none" stroke="#000" stroke-width="0.95" stroke-linejoin="miter"/>
<line x1="270.74" y1="231.20" x2="270.74" y2="234.70" stroke="#000" stroke-width="0.75"/>
<text x="270.74" y="246.00" font-size="10.25" text-anchor="middle" textLength="15.55" lengthAdjust="spacingAndGlyphs">0.0</text>
<line x1="305.68" y1="231.20" x2="305.68" y2="234.70" stroke="#000" stroke-width="0.75"/>
<text x="305.68" y="246.00" font-size="10.25" text-anchor="middle" textLength="15.55" lengthAdjust="spacingAndGlyphs">0.2</text>
<line x1="340.62" y1="231.20" x2="340.62" y2="234.70" stroke="#000" stroke-width="0.75"/>
<text x="340.62" y="246.00" font-size="10.25" text-anchor="middle" textLength="15.55" lengthAdjust="spacingAndGlyphs">0.4</text>
<line x1="375.56" y1="231.20" x2="375.56" y2="234.70" stroke="#000" stroke-width="0.75"/>
<text x="375.56" y="246.00" font-size="10.25" text-anchor="middle" textLength="15.55" lengthAdjust="spacingAndGlyphs">0.6</text>
<line x1="410.50" y1="231.20" x2="410.50" y2="234.70" stroke="#000" stroke-width="0.75"/>
<text x="410.50" y="246.00" font-size="10.25" text-anchor="middle" textLength="15.55" lengthAdjust="spacingAndGlyphs">0.8</text>
<line x1="445.44" y1="231.20" x2="445.44" y2="234.70" stroke="#000" stroke-width="0.75"/>
<text x="445.44" y="246.00" font-size="10.25" text-anchor="middle" textLength="15.55" lengthAdjust="spacingAndGlyphs">1.0</text>
<line x1="258.50" y1="231.20" x2="262.00" y2="231.20" stroke="#000" stroke-width="0.75"/>
<text x="255.80" y="234.85" font-size="10.25" text-anchor="end" textLength="15.55" lengthAdjust="spacingAndGlyphs">0.0</text>
<line x1="258.50" y1="203.57" x2="262.00" y2="203.57" stroke="#000" stroke-width="0.75"/>
<text x="255.80" y="207.22" font-size="10.25" text-anchor="end" textLength="15.55" lengthAdjust="spacingAndGlyphs">0.5</text>
<line x1="258.50" y1="175.94" x2="262.00" y2="175.94" stroke="#000" stroke-width="0.75"/>
<text x="255.80" y="179.59" font-size="10.25" text-anchor="end" textLength="15.55" lengthAdjust="spacingAndGlyphs">1.0</text>
<line x1="258.50" y1="148.31" x2="262.00" y2="148.31" stroke="#000" stroke-width="0.75"/>
<text x="255.80" y="151.96" font-size="10.25" text-anchor="end" textLength="15.55" lengthAdjust="spacingAndGlyphs">1.5</text>
<line x1="258.50" y1="120.68" x2="262.00" y2="120.68" stroke="#000" stroke-width="0.75"/>
<text x="255.80" y="124.33" font-size="10.25" text-anchor="end" textLength="15.55" lengthAdjust="spacingAndGlyphs">2.0</text>
<line x1="258.50" y1="93.05" x2="262.00" y2="93.05" stroke="#000" stroke-width="0.75"/>
<text x="255.80" y="96.70" font-size="10.25" text-anchor="end" textLength="15.55" lengthAdjust="spacingAndGlyphs">2.5</text>
<line x1="258.50" y1="65.42" x2="262.00" y2="65.42" stroke="#000" stroke-width="0.75"/>
<text x="255.80" y="69.07" font-size="10.25" text-anchor="end" textLength="15.55" lengthAdjust="spacingAndGlyphs">3.0</text>
<line x1="258.50" y1="37.79" x2="262.00" y2="37.79" stroke="#000" stroke-width="0.75"/>
<text x="255.80" y="41.44" font-size="10.25" text-anchor="end" textLength="15.55" lengthAdjust="spacingAndGlyphs">3.5</text>
<text x="358.10" y="9.20" font-size="10.25" text-anchor="middle" textLength="119.16" lengthAdjust="spacingAndGlyphs">Type 2 Diabetes Mellitus</text>
<text x="358.10" y="258.80" font-size="10.25" text-anchor="middle" textLength="65.71" lengthAdjust="spacingAndGlyphs">Jaccard Index</text>
<path d="M501.30,231.20 L501.30,140.00 L501.4,139.3 L501.4,138.7 L501.5,138.0 L501.5,137.4 L501.6,136.7 L501.7,136.0 L501.7,135.4 L501.8,134.7 L501.8,134.0 L501.9,133.4 L502.0,132.7 L502.0,132.1 L502.1,131.4 L502.1,130.7 L502.2,130.1 L502.3,129.4 L502.3,128.7 L502.4,128.1 L502.4,127.4 L502.5,126.8 L502.6,126.1 L502.6,125.4 L502.7,124.8 L502.7,124.1 L502.8,123.4 L502.9,122.8 L502.9,122.1 L503.0,121.4 L503.1,120.8 L503.1,120.1 L503.2,119.5 L503.2,118.8 L503.3,118.1 L503.4,117.5 L503.4,116.8 L503.5,116.1 L503.6,115.5 L503.6,114.8 L503.7,114.1 L503.7,113.5 L503.8,112.8 L503.9,112.1 L503.9,111.5 L504.0,110.8 L504.1,110.2 L504.1,109.5 L504.2,108.8 L504.3,108.2 L504.3,107.5 L504.4,106.8 L504.5,106.2 L504.5,105.5 L504.6,104.8 L504.7,104.2 L504.7,103.5 L504.8,102.9 L504.9,102.2 L505.0,101.5 L505.0,100.9 L505.1,100.2 L505.2,99.5 L505.2,98.9 L505.3,98.2 L505.4,97.5 L505.5,96.9 L505.5,96.2 L505.6,95.6 L505.7,94.9 L505.7,94.2 L505.8,93.6 L505.9,92.9 L506.0,92.2 L506.0,91.6 L506.1,90.9 L506.2,90.3 L506.3,89.6 L506.4,88.9 L506.4,88.3 L506.5,87.6 L506.6,87.0 L506.7,86.3 L506.8,85.6 L506.8,85.0 L506.9,84.3 L507.0,83.7 L507.1,83.0 L507.2,82.3 L507.2,81.7 L507.3,81.0 L507.4,80.4 L507.5,79.7 L507.6,79.0 L507.7,78.4 L507.8,77.7 L507.8,77.1 L507.9,76.4 L508.0,75.8 L508.1,75.1 L508.2,74.4 L508.3,73.8 L508.4,73.1 L508.5,72.5 L508.5,71.8 L508.6,71.1 L508.7,70.5 L508.8,69.8 L508.9,69.2 L509.0,68.5 L509.1,67.9 L509.2,67.2 L509.2,66.5 L509.3,65.9 L509.4,65.2 L509.5,64.6 L509.6,63.9 L509.7,63.2 L509.8,62.6 L509.8,61.9 L509.9,61.3 L510.0,60.6 L510.1,59.9 L510.2,59.3 L510.3,58.6 L510.3,57.9 L510.4,57.3 L510.5,56.6 L510.6,55.9 L510.6,55.3 L510.7,54.6 L510.8,53.9 L510.9,53.3 L510.9,52.6 L511.0,51.9 L511.1,51.3 L511.1,50.6 L511.2,49.9 L511.3,49.3 L511.3,48.6 L511.4,47.9 L511.5,47.3 L511.6,46.6 L511.6,45.9 L511.7,45.2 L511.8,44.6 L511.9,43.9 L512.0,43.3 L512.1,42.6 L512.2,41.9 L512.3,41.3 L512.4,40.6 L512.6,40.0 L512.7,39.3 L512.9,38.7 L513.0,38.0 L513.2,37.4 L513.4,36.7 L513.6,36.1 L513.8,35.5 L514.0,34.9 L514.2,34.2 L514.4,33.6 L514.7,33.0 L515.0,32.4 L515.3,31.8 L515.6,31.2 L515.9,30.6 L516.2,30.0 L516.5,29.4 L516.9,28.9 L517.3,28.3 L517.7,27.8 L518.2,27.4 L518.6,27.0 L519.1,26.7 L519.7,26.5 L520.2,26.4 L520.9,26.4 L521.5,26.6 L522.2,26.8 L522.8,27.0 L523.5,27.3 L524.2,27.6 L524.8,27.8 L525.5,28.0 L526.1,28.1 L526.7,28.1 L527.4,28.0 L528.0,27.9 L528.6,27.6 L529.3,27.3 L529.9,27.0 L530.6,26.6 L531.3,26.2 L531.9,25.9 L532.6,25.7 L533.2,25.6 L533.7,25.5 L534.3,25.6 L534.8,25.7 L535.3,25.9 L535.8,26.2 L536.3,26.6 L536.7,27.0 L537.1,27.5 L537.5,28.0 L537.9,28.5 L538.2,29.1 L538.6,29.7 L538.9,30.3 L539.2,30.9 L539.5,31.6 L539.8,32.2 L540.0,32.9 L540.3,33.5 L540.5,34.2 L540.8,34.8 L541.0,35.5 L541.2,36.1 L541.4,36.8 L541.6,37.4 L541.7,38.1 L541.9,38.7 L542.1,39.4 L542.2,40.0 L542.4,40.7 L542.5,41.3 L542.6,42.0 L542.8,42.7 L542.9,43.3 L543.0,44.0 L543.1,44.6 L543.2,45.3 L543.3,45.9 L543.4,46.6 L543.5,47.3 L543.6,47.9 L543.7,48.6 L543.8,49.2 L543.9,49.9 L544.0,50.5 L544.1,51.2 L544.2,51.8 L544.3,52.5 L544.4,53.2 L544.5,53.8 L544.6,54.5 L544.7,55.1 L544.8,55.8 L544.9,56.5 L544.9,57.1 L545.0,57.8 L545.1,58.4 L545.2,59.1 L545.3,59.7 L545.4,60.4 L545.5,61.1 L545.6,61.7 L545.7,62.4 L545.8,63.0 L545.9,63.7 L546.0,64.3 L546.0,65.0 L546.1,65.7 L546.2,66.3 L546.3,67.0 L546.4,67.6 L546.5,68.3 L546.6,69.0 L546.7,69.6 L546.8,70.3 L546.9,70.9 L546.9,71.6 L547.0,72.2 L547.1,72.9 L547.2,73.6 L547.3,74.2 L547.4,74.9 L547.5,75.5 L547.6,76.2 L547.7,76.9 L547.7,77.5 L547.8,78.2 L547.9,78.8 L548.0,79.5 L548.1,80.2 L548.2,80.8 L548.3,81.5 L548.4,82.1 L548.4,82.8 L548.5,83.5 L548.6,84.1 L548.7,84.8 L548.8,85.4 L548.9,86.1 L549.0,86.8 L549.0,87.4 L549.1,88.1 L549.2,88.7 L549.3,89.4 L549.4,90.1 L549.5,90.7 L549.6,91.4 L549.6,92.0 L549.7,92.7 L549.8,93.4 L549.9,94.0 L550.0,94.7 L550.1,95.3 L550.2,96.0 L550.2,96.7 L550.3,97.3 L550.4,98.0 L550.5,98.6 L550.6,99.3 L550.7,100.0 L550.7,100.6 L550.8,101.3 L550.9,102.0 L551.0,102.6 L551.1,103.3 L551.2,103.9 L551.3,104.6 L551.3,105.3 L551.4,105.9 L551.5,106.6 L551.6,107.2 L551.7,107.9 L551.8,108.6 L551.8,109.2 L551.9,109.9 L552.0,110.6 L552.1,111.2 L552.2,111.9 L552.3,112.5 L552.4,113.2 L552.4,113.9 L552.5,114.5 L552.6,115.2 L552.7,115.9 L552.8,116.5 L552.9,117.2 L552.9,117.8 L553.0,118.5 L553.1,119.2 L553.2,119.8 L553.3,120.5 L553.4,121.2 L553.5,121.8 L553.6,122.5 L553.7,123.1 L553.7,123.8 L553.8,124.5 L553.9,125.1 L554.0,125.8 L554.1,126.5 L554.2,127.1 L554.3,127.8 L554.4,128.4 L554.5,129.1 L554.6,129.8 L554.7,130.4 L554.8,131.1 L554.9,131.7 L555.0,132.4 L555.1,133.1 L555.2,133.7 L555.3,134.4 L555.4,135.0 L555.5,135.7 L555.6,136.3 L555.7,137.0 L555.8,137.7 L556.0,138.3 L556.1,139.0 L556.2,139.6 L556.3,140.3 L556.4,140.9 L556.5,141.6 L556.7,142.2 L556.8,142.9 L556.9,143.6 L557.0,144.2 L557.2,144.9 L557.3,145.5 L557.4,146.2 L557.6,146.8 L557.7,147.5 L557.8,148.1 L558.0,148.8 L558.1,149.4 L558.3,150.1 L558.4,150.7 L558.5,151.4 L558.7,152.0 L558.8,152.7 L559.0,153.3 L559.2,153.9 L559.3,154.6 L559.5,155.2 L559.6,155.9 L559.8,156.5 L560.0,157.2 L560.1,157.8 L560.3,158.4 L560.5,159.1 L560.6,159.7 L560.8,160.4 L561.0,161.0 L561.2,161.6 L561.4,162.3 L561.6,162.9 L561.7,163.6 L561.9,164.2 L562.1,164.8 L562.3,165.5 L562.5,166.1 L562.7,166.7 L562.9,167.4 L563.1,168.0 L563.4,168.6 L563.6,169.2 L563.8,169.9 L564.0,170.5 L564.2,171.1 L564.4,171.8 L564.7,172.4 L564.9,173.0 L565.1,173.6 L565.3,174.3 L565.6,174.9 L565.8,175.5 L566.0,176.1 L566.3,176.8 L566.5,177.4 L566.7,178.0 L567.0,178.6 L567.2,179.3 L567.4,179.9 L567.7,180.5 L567.9,181.1 L568.2,181.7 L568.4,182.4 L568.7,183.0 L568.9,183.6 L569.2,184.2 L569.4,184.8 L569.7,185.4 L569.9,186.1 L570.2,186.7 L570.5,187.3 L570.7,187.9 L571.0,188.5 L571.2,189.1 L571.5,189.8 L571.8,190.4 L572.0,191.0 L572.3,191.6 L572.5,192.2 L572.8,192.8 L573.1,193.4 L573.3,194.0 L573.6,194.7 L573.9,195.3 L574.1,195.9 L574.4,196.5 L574.7,197.1 L575.0,197.7 L575.2,198.3 L575.5,198.9 L575.8,199.6 L576.0,200.2 L576.3,200.8 L576.6,201.4 L576.9,202.0 L577.1,202.6 L577.4,203.2 L577.7,203.8 L577.9,204.4 L578.2,205.0 L578.5,205.6 L578.8,206.3 L579.0,206.9 L579.3,207.5 L579.6,208.1 L579.8,208.7 L580.1,209.3 L580.4,209.9 L580.7,210.5 L581.0,211.1 L581.3,211.7 L581.5,212.3 L581.8,212.9 L582.1,213.5 L582.4,214.1 L582.7,214.7 L583.0,215.3 L583.3,215.8 L583.7,216.4 L584.0,217.0 L584.3,217.6 L584.6,218.2 L585.0,218.7 L585.3,219.3 L585.7,219.9 L586.0,220.4 L586.4,221.0 L586.8,221.5 L587.1,222.1 L587.5,222.6 L587.9,223.1 L588.3,223.7 L588.7,224.2 L589.2,224.7 L589.6,225.2 L590.0,225.7 L590.5,226.3 L590.9,226.7 L591.4,227.2 L591.9,227.7 L592.4,228.2 L592.9,228.6 L593.4,229.0 L594.0,229.4 L594.5,229.7 L595.1,230.0 L595.7,230.3 L596.3,230.5 L596.9,230.7 L597.6,230.9 L598.3,231.0 L598.9,231.1 L599.7,231.1 L600.4,231.0 L501.30,231.20 Z" fill="rgb(204,210,225)" stroke="none"/>
<path d="M501.30,231.20 L501.30,140.00 L501.4,139.3 L501.4,138.7 L501.5,138.0 L501.5,137.4 L501.6,136.7 L501.7,136.0 L501.7,135.4 L501.8,134.7 L501.8,134.0 L501.9,133.4 L502.0,132.7 L502.0,132.1 L502.1,131.4 L502.1,130.7 L502.2,130.1 L502.3,129.4 L502.3,128.7 L502.4,128.1 L502.4,127.4 L502.5,126.8 L502.6,126.1 L502.6,125.4 L502.7,124.8 L502.7,124.1 L502.8,123.4 L502.9,122.8 L502.9,122.1 L503.0,121.4 L503.1,120.8 L503.1,120.1 L503.2,119.5 L503.2,118.8 L503.3,118.1 L503.4,117.5 L503.4,116.8 L503.5,116.1 L503.6,115.5 L503.6,114.8 L503.7,114.1 L503.7,113.5 L503.8,112.8 L503.9,112.1 L503.9,111.5 L504.0,110.8 L504.1,110.2 L504.1,109.5 L504.2,108.8 L504.3,108.2 L504.3,107.5 L504.4,106.8 L504.5,106.2 L504.5,105.5 L504.6,104.8 L504.7,104.2 L504.7,103.5 L504.8,102.9 L504.9,102.2 L505.0,101.5 L505.0,100.9 L505.1,100.2 L505.2,99.5 L505.2,98.9 L505.3,98.2 L505.4,97.5 L505.5,96.9 L505.5,96.2 L505.6,95.6 L505.7,94.9 L505.7,94.2 L505.8,93.6 L505.9,92.9 L506.0,92.2 L506.0,91.6 L506.1,90.9 L506.2,90.3 L506.3,89.6 L506.4,88.9 L506.4,88.3 L506.5,87.6 L506.6,87.0 L506.7,86.3 L506.8,85.6 L506.8,85.0 L506.9,84.3 L507.0,83.7 L507.1,83.0 L507.2,82.3 L507.2,81.7 L507.3,81.0 L507.4,80.4 L507.5,79.7 L507.6,79.0 L507.7,78.4 L507.8,77.7 L507.8,77.1 L507.9,76.4 L508.0,75.8 L508.1,75.1 L508.2,74.4 L508.3,73.8 L508.4,73.1 L508.5,72.5 L508.5,71.8 L508.6,71.1 L508.7,70.5 L508.8,69.8 L508.9,69.2 L509.0,68.5 L509.1,67.9 L509.2,67.2 L509.2,66.5 L509.3,65.9 L509.4,65.2 L509.5,64.6 L509.6,63.9 L509.7,63.2 L509.8,62.6 L509.8,61.9 L509.9,61.3 L510.0,60.6 L510.1,59.9 L510.2,59.3 L510.3,58.6 L510.3,57.9 L510.4,57.3 L510.5,56.6 L510.6,55.9 L510.6,55.3 L510.7,54.6 L510.8,53.9 L510.9,53.3 L510.9,52.6 L511.0,51.9 L511.1,51.3 L511.1,50.6 L511.2,49.9 L511.3,49.3 L511.3,48.6 L511.4,47.9 L511.5,47.3 L511.6,46.6 L511.6,45.9 L511.7,45.2 L511.8,44.6 L511.9,43.9 L512.0,43.3 L512.1,42.6 L512.2,41.9 L512.3,41.3 L512.4,40.6 L512.6,40.0 L512.7,39.3 L512.9,38.7 L513.0,38.0 L513.2,37.4 L513.4,36.7 L513.6,36.1 L513.8,35.5 L514.0,34.9 L514.2,34.2 L514.4,33.6 L514.7,33.0 L515.0,32.4 L515.3,31.8 L515.6,31.2 L515.9,30.6 L516.2,30.0 L516.5,29.4 L516.9,28.9 L517.3,28.3 L517.7,27.8 L518.2,27.4 L518.6,27.0 L519.1,26.7 L519.7,26.5 L520.2,26.4 L520.9,26.4 L521.5,26.6 L522.2,26.8 L522.8,27.0 L523.5,27.3 L524.2,27.6 L524.8,27.8 L525.5,28.0 L526.1,28.1 L526.7,28.1 L527.4,28.0 L528.0,27.9 L528.6,27.6 L529.3,27.3 L529.9,27.0 L530.6,26.6 L531.3,26.2 L531.9,25.9 L532.6,25.7 L533.2,25.6 L533.7,25.5 L534.3,25.6 L534.8,25.7 L535.3,25.9 L535.8,26.2 L536.3,26.6 L536.7,27.0 L537.1,27.5 L537.5,28.0 L537.9,28.5 L538.2,29.1 L538.6,29.7 L538.9,30.3 L539.2,30.9 L539.5,31.6 L539.8,32.2 L540.0,32.9 L540.3,33.5 L540.5,34.2 L540.8,34.8 L541.0,35.5 L541.2,36.1 L541.4,36.8 L541.6,37.4 L541.7,38.1 L541.9,38.7 L542.1,39.4 L542.2,40.0 L542.4,40.7 L542.5,41.3 L542.6,42.0 L542.8,42.7 L542.9,43.3 L543.0,44.0 L543.1,44.6 L543.2,45.3 L543.3,45.9 L543.4,46.6 L543.5,47.3 L543.6,47.9 L543.7,48.6 L543.8,49.2 L543.9,49.9 L544.0,50.5 L544.1,51.2 L544.2,51.8 L544.3,52.5 L544.4,53.2 L544.5,53.8 L544.6,54.5 L544.7,55.1 L544.8,55.8 L544.9,56.5 L544.9,57.1 L545.0,57.8 L545.1,58.4 L545.2,59.1 L545.3,59.7 L545.4,60.4 L545.5,61.1 L545.6,61.7 L545.7,62.4 L545.8,63.0 L545.9,63.7 L546.0,64.3 L546.0,65.0 L546.1,65.7 L546.2,66.3 L546.3,67.0 L546.4,67.6 L546.5,68.3 L546.6,69.0 L546.7,69.6 L546.8,70.3 L546.9,70.9 L546.9,71.6 L547.0,72.2 L547.1,72.9 L547.2,73.6 L547.3,74.2 L547.4,74.9 L547.5,75.5 L547.6,76.2 L547.7,76.9 L547.7,77.5 L547.8,78.2 L547.9,78.8 L548.0,79.5 L548.1,80.2 L548.2,80.8 L548.3,81.5 L548.4,82.1 L548.4,82.8 L548.5,83.5 L548.6,84.1 L548.7,84.8 L548.8,85.4 L548.9,86.1 L549.0,86.8 L549.0,87.4 L549.1,88.1 L549.2,88.7 L549.3,89.4 L549.4,90.1 L549.5,90.7 L549.6,91.4 L549.6,92.0 L549.7,92.7 L549.8,93.4 L549.9,94.0 L550.0,94.7 L550.1,95.3 L550.2,96.0 L550.2,96.7 L550.3,97.3 L550.4,98.0 L550.5,98.6 L550.6,99.3 L550.7,100.0 L550.7,100.6 L550.8,101.3 L550.9,102.0 L551.0,102.6 L551.1,103.3 L551.2,103.9 L551.3,104.6 L551.3,105.3 L551.4,105.9 L551.5,106.6 L551.6,107.2 L551.7,107.9 L551.8,108.6 L551.8,109.2 L551.9,109.9 L552.0,110.6 L552.1,111.2 L552.2,111.9 L552.3,112.5 L552.4,113.2 L552.4,113.9 L552.5,114.5 L552.6,115.2 L552.7,115.9 L552.8,116.5 L552.9,117.2 L552.9,117.8 L553.0,118.5 L553.1,119.2 L553.2,119.8 L553.3,120.5 L553.4,121.2 L553.5,121.8 L553.6,122.5 L553.7,123.1 L553.7,123.8 L553.8,124.5 L553.9,125.1 L554.0,125.8 L554.1,126.5 L554.2,127.1 L554.3,127.8 L554.4,128.4 L554.5,129.1 L554.6,129.8 L554.7,130.4 L554.8,131.1 L554.9,131.7 L555.0,132.4 L555.1,133.1 L555.2,133.7 L555.3,134.4 L555.4,135.0 L555.5,135.7 L555.6,136.3 L555.7,137.0 L555.8,137.7 L556.0,138.3 L556.1,139.0 L556.2,139.6 L556.3,140.3 L556.4,140.9 L556.5,141.6 L556.7,142.2 L556.8,142.9 L556.9,143.6 L557.0,144.2 L557.2,144.9 L557.3,145.5 L557.4,146.2 L557.6,146.8 L557.7,147.5 L557.8,148.1 L558.0,148.8 L558.1,149.4 L558.3,150.1 L558.4,150.7 L558.5,151.4 L558.7,152.0 L558.8,152.7 L559.0,153.3 L559.2,153.9 L559.3,154.6 L559.5,155.2 L559.6,155.9 L559.8,156.5 L560.0,157.2 L560.1,157.8 L560.3,158.4 L560.5,159.1 L560.6,159.7 L560.8,160.4 L561.0,161.0 L561.2,161.6 L561.4,162.3 L561.6,162.9 L561.7,163.6 L561.9,164.2 L562.1,164.8 L562.3,165.5 L562.5,166.1 L562.7,166.7 L562.9,167.4 L563.1,168.0 L563.4,168.6 L563.6,169.2 L563.8,169.9 L564.0,170.5 L564.2,171.1 L564.4,171.8 L564.7,172.4 L564.9,173.0 L565.1,173.6 L565.3,174.3 L565.6,174.9 L565.8,175.5 L566.0,176.1 L566.3,176.8 L566.5,177.4 L566.7,178.0 L567.0,178.6 L567.2,179.3 L567.4,179.9 L567.7,180.5 L567.9,181.1 L568.2,181.7 L568.4,182.4 L568.7,183.0 L568.9,183.6 L569.2,184.2 L569.4,184.8 L569.7,185.4 L569.9,186.1 L570.2,186.7 L570.5,187.3 L570.7,187.9 L571.0,188.5 L571.2,189.1 L571.5,189.8 L571.8,190.4 L572.0,191.0 L572.3,191.6 L572.5,192.2 L572.8,192.8 L573.1,193.4 L573.3,194.0 L573.6,194.7 L573.9,195.3 L574.1,195.9 L574.4,196.5 L574.7,197.1 L575.0,197.7 L575.2,198.3 L575.5,198.9 L575.8,199.6 L576.0,200.2 L576.3,200.8 L576.6,201.4 L576.9,202.0 L577.1,202.6 L577.4,203.2 L577.7,203.8 L577.9,204.4 L578.2,205.0 L578.5,205.6 L578.8,206.3 L579.0,206.9 L579.3,207.5 L579.6,208.1 L579.8,208.7 L580.1,209.3 L580.4,209.9 L580.7,210.5 L581.0,211.1 L581.3,211.7 L581.5,212.3 L581.8,212.9 L582.1,213.5 L582.4,214.1 L582.7,214.7 L583.0,215.3 L583.3,215.8 L583.7,216.4 L584.0,217.0 L584.3,217.6 L584.6,218.2 L585.0,218.7 L585.3,219.3 L585.7,219.9 L586.0,220.4 L586.4,221.0 L586.8,221.5 L587.1,222.1 L587.5,222.6 L587.9,223.1 L588.3,223.7 L588.7,224.2 L589.2,224.7 L589.6,225.2 L590.0,225.7 L590.5,226.3 L590.9,226.7 L591.4,227.2 L591.9,227.7 L592.4,228.2 L592.9,228.6 L593.4,229.0 L594.0,229.4 L594.5,229.7 L595.1,230.0 L595.7,230.3 L596.3,230.5 L596.9,230.7 L597.6,230.9 L598.3,231.0 L598.9,231.1 L599.7,231.1 L600.4,231.0" fill="none" stroke="#4b6198" stroke-width="1.25" stroke-linejoin="round"/>
<path d="M546.10,231.20 L546.7,231.1 L547.4,230.9 L548.0,230.8 L548.6,230.6 L549.3,230.4 L549.9,230.3 L550.6,230.1 L551.2,229.9 L551.8,229.7 L552.5,229.4 L553.1,229.2 L553.7,229.0 L554.4,228.7 L555.0,228.5 L555.6,228.2 L556.2,227.9 L556.8,227.6 L557.4,227.3 L558.1,227.0 L558.6,226.7 L559.2,226.3 L559.8,226.0 L560.4,225.7 L560.9,225.3 L561.5,224.9 L562.0,224.5 L562.6,224.1 L563.1,223.7 L563.6,223.3 L564.1,222.9 L564.6,222.4 L565.1,222.0 L565.6,221.5 L566.0,221.1 L566.5,220.6 L566.9,220.1 L567.3,219.6 L567.7,219.1 L568.1,218.6 L568.5,218.0 L568.8,217.5 L569.2,216.9 L569.5,216.4 L569.8,215.8 L570.2,215.2 L570.5,214.7 L570.8,214.1 L571.1,213.5 L571.4,212.9 L571.6,212.3 L571.9,211.7 L572.2,211.1 L572.4,210.4 L572.7,209.8 L572.9,209.2 L573.2,208.6 L573.4,207.9 L573.6,207.3 L573.9,206.7 L574.1,206.0 L574.3,205.4 L574.5,204.8 L574.7,204.1 L575.0,203.5 L575.2,202.9 L575.4,202.2 L575.6,201.6 L575.8,200.9 L576.0,200.3 L576.3,199.7 L576.5,199.0 L576.7,198.4 L576.9,197.8 L577.1,197.1 L577.3,196.5 L577.5,195.9 L577.7,195.2 L577.9,194.6 L578.1,194.0 L578.4,193.3 L578.6,192.7 L578.8,192.1 L579.0,191.4 L579.2,190.8 L579.4,190.1 L579.6,189.5 L579.8,188.9 L580.0,188.2 L580.2,187.6 L580.4,187.0 L580.6,186.3 L580.7,185.7 L580.9,185.1 L581.1,184.4 L581.3,183.8 L581.5,183.2 L581.7,182.5 L581.9,181.9 L582.1,181.3 L582.3,180.6 L582.5,180.0 L582.6,179.4 L582.8,178.7 L583.0,178.1 L583.2,177.4 L583.4,176.8 L583.6,176.2 L583.7,175.5 L583.9,174.9 L584.1,174.3 L584.3,173.6 L584.5,173.0 L584.6,172.3 L584.8,171.7 L585.0,171.1 L585.2,170.4 L585.3,169.8 L585.5,169.1 L585.7,168.5 L585.9,167.9 L586.0,167.2 L586.2,166.6 L586.4,165.9 L586.5,165.3 L586.7,164.7 L586.9,164.0 L587.0,163.4 L587.2,162.7 L587.4,162.1 L587.5,161.4 L587.7,160.8 L587.9,160.2 L588.0,159.5 L588.2,158.9 L588.3,158.2 L588.5,157.6 L588.7,156.9 L588.8,156.3 L589.0,155.6 L589.1,155.0 L589.3,154.3 L589.5,153.7 L589.6,153.1 L589.8,152.4 L589.9,151.8 L590.1,151.1 L590.2,150.5 L590.4,149.8 L590.6,149.2 L590.7,148.5 L590.9,147.9 L591.0,147.2 L591.2,146.6 L591.3,145.9 L591.5,145.3 L591.6,144.6 L591.8,144.0 L592.0,143.3 L592.1,142.7 L592.3,142.0 L592.4,141.4 L592.6,140.8 L592.7,140.1 L592.9,139.5 L593.0,138.8 L593.2,138.2 L593.3,137.5 L593.5,136.9 L593.6,136.2 L593.8,135.6 L594.0,134.9 L594.1,134.3 L594.3,133.6 L594.4,133.0 L594.6,132.3 L594.7,131.7 L594.9,131.0 L595.0,130.4 L595.2,129.7 L595.4,129.1 L595.5,128.4 L595.7,127.8 L595.8,127.1 L596.0,126.5 L596.1,125.9 L596.3,125.2 L596.5,124.6 L596.6,123.9 L596.8,123.3 L596.9,122.6 L597.1,122.0 L597.3,121.3 L597.4,120.7 L597.6,120.0 L597.7,119.4 L597.9,118.7 L598.1,118.1 L598.2,117.5 L598.4,116.8 L598.6,116.2 L598.7,115.5 L598.9,114.9 L599.1,114.2 L599.2,113.6 L599.4,112.9 L599.6,112.3 L599.7,111.7 L599.9,111.0 L600.1,110.4 L600.2,109.7 L600.4,109.1 L600.6,108.4 L600.8,107.8 L600.9,107.2 L601.1,106.5 L601.3,105.9 L601.5,105.2 L601.7,104.6 L601.8,104.0 L602.0,103.3 L602.2,102.7 L602.4,102.1 L602.6,101.4 L602.8,100.8 L602.9,100.1 L603.1,99.5 L603.3,98.9 L603.5,98.2 L603.7,97.6 L603.9,97.0 L604.1,96.3 L604.3,95.7 L604.5,95.1 L604.7,94.4 L604.9,93.8 L605.1,93.2 L605.3,92.5 L605.5,91.9 L605.7,91.3 L605.9,90.6 L606.1,90.0 L606.3,89.4 L606.6,88.8 L606.8,88.1 L607.1,87.5 L607.4,86.9 L607.7,86.3 L608.1,85.7 L608.4,85.1 L608.9,84.5 L609.3,84.0 L609.8,83.4 L610.3,82.9 L610.8,82.4 L611.4,81.9 L612.0,81.5 L612.5,81.2 L613.1,81.0 L613.7,80.8 L614.3,80.8 L614.8,80.8 L615.3,81.0 L615.9,81.2 L616.4,81.5 L616.9,81.9 L617.4,82.4 L617.8,82.9 L618.3,83.4 L618.7,84.0 L619.1,84.6 L619.5,85.1 L619.9,85.7 L620.3,86.3 L620.6,86.9 L621.0,87.5 L621.3,88.1 L621.6,88.7 L621.9,89.3 L622.2,89.9 L622.5,90.5 L622.8,91.1 L623.0,91.8 L623.3,92.4 L623.5,93.0 L623.8,93.6 L624.0,94.2 L624.2,94.9 L624.5,95.5 L624.7,96.1 L624.9,96.8 L625.1,97.4 L625.3,98.0 L625.5,98.7 L625.7,99.3 L625.8,99.9 L626.0,100.6 L626.2,101.2 L626.4,101.8 L626.6,102.5 L626.8,103.1 L627.0,103.8 L627.2,104.4 L627.3,105.0 L627.5,105.7 L627.7,106.3 L627.9,106.9 L628.1,107.6 L628.3,108.2 L628.4,108.9 L628.6,109.5 L628.8,110.1 L629.0,110.8 L629.2,111.4 L629.4,112.1 L629.5,112.7 L629.7,113.3 L629.9,114.0 L630.1,114.6 L630.3,115.3 L630.5,115.9 L630.6,116.5 L630.8,117.2 L631.0,117.8 L631.2,118.5 L631.4,119.1 L631.6,119.7 L631.8,120.4 L631.9,121.0 L632.1,121.7 L632.3,122.3 L632.5,122.9 L632.7,123.6 L632.9,124.2 L633.1,124.9 L633.3,125.5 L633.5,126.1 L633.6,126.8 L633.8,127.4 L634.0,128.0 L634.2,128.7 L634.4,129.3 L634.6,129.9 L634.8,130.6 L635.0,131.2 L635.2,131.9 L635.4,132.5 L635.6,133.1 L635.8,133.8 L636.0,134.4 L636.2,135.0 L636.4,135.6 L636.6,136.3 L636.8,136.9 L637.1,137.5 L637.3,138.2 L637.5,138.8 L637.7,139.4 L637.9,140.1 L638.1,140.7 L638.3,141.3 L638.6,141.9 L638.8,142.6 L639.0,143.2 L639.2,143.8 L639.5,144.4 L639.7,145.0 L639.9,145.7 L640.2,146.3 L640.4,146.9 L640.7,147.5 L640.9,148.1 L641.1,148.8 L641.4,149.4 L641.7,150.0 L641.9,150.6 L642.2,151.2 L642.4,151.8 L642.7,152.4 L643.0,153.0 L643.3,153.6 L643.5,154.2 L643.8,154.8 L644.1,155.5 L644.4,156.1 L644.7,156.6 L645.0,157.2 L645.3,157.8 L645.7,158.4 L646.0,159.0 L646.3,159.6 L646.7,160.2 L647.1,160.7 L647.5,161.3 L647.9,161.8 L648.3,162.4 L648.8,162.9 L649.2,163.4 L649.7,163.9 L650.3,164.3 L650.8,164.8 L651.4,165.2 L652.0,165.5 L652.6,165.9 L653.2,166.1 L653.7,166.4 L654.3,166.5 L654.9,166.6 L655.5,166.7 L656.1,166.6 L656.7,166.6 L657.3,166.4 L657.8,166.3 L658.4,166.0 L659.0,165.8 L659.5,165.5 L660.1,165.1 L660.6,164.8 L661.2,164.4 L661.7,164.0 L662.3,163.5 L662.9,163.1 L663.4,162.7 L664.0,162.2 L664.5,161.8 L665.1,161.3 L665.7,160.9 L666.2,160.4 L666.8,160.0 L667.4,159.6 L668.0,159.2 L668.6,158.8 L669.2,158.5 L669.8,158.2 L670.4,158.0 L671.0,157.7 L671.6,157.6 L672.2,157.4 L672.9,157.4 L673.5,157.4 L674.2,157.4 L674.8,157.5 L675.5,157.7 L675.70,231.20 L546.10,231.20 Z" fill="rgba(226,28,32,0.29)" stroke="none"/>
<path d="M546.10,231.20 L546.7,231.1 L547.4,230.9 L548.0,230.8 L548.6,230.6 L549.3,230.4 L549.9,230.3 L550.6,230.1 L551.2,229.9 L551.8,229.7 L552.5,229.4 L553.1,229.2 L553.7,229.0 L554.4,228.7 L555.0,228.5 L555.6,228.2 L556.2,227.9 L556.8,227.6 L557.4,227.3 L558.1,227.0 L558.6,226.7 L559.2,226.3 L559.8,226.0 L560.4,225.7 L560.9,225.3 L561.5,224.9 L562.0,224.5 L562.6,224.1 L563.1,223.7 L563.6,223.3 L564.1,222.9 L564.6,222.4 L565.1,222.0 L565.6,221.5 L566.0,221.1 L566.5,220.6 L566.9,220.1 L567.3,219.6 L567.7,219.1 L568.1,218.6 L568.5,218.0 L568.8,217.5 L569.2,216.9 L569.5,216.4 L569.8,215.8 L570.2,215.2 L570.5,214.7 L570.8,214.1 L571.1,213.5 L571.4,212.9 L571.6,212.3 L571.9,211.7 L572.2,211.1 L572.4,210.4 L572.7,209.8 L572.9,209.2 L573.2,208.6 L573.4,207.9 L573.6,207.3 L573.9,206.7 L574.1,206.0 L574.3,205.4 L574.5,204.8 L574.7,204.1 L575.0,203.5 L575.2,202.9 L575.4,202.2 L575.6,201.6 L575.8,200.9 L576.0,200.3 L576.3,199.7 L576.5,199.0 L576.7,198.4 L576.9,197.8 L577.1,197.1 L577.3,196.5 L577.5,195.9 L577.7,195.2 L577.9,194.6 L578.1,194.0 L578.4,193.3 L578.6,192.7 L578.8,192.1 L579.0,191.4 L579.2,190.8 L579.4,190.1 L579.6,189.5 L579.8,188.9 L580.0,188.2 L580.2,187.6 L580.4,187.0 L580.6,186.3 L580.7,185.7 L580.9,185.1 L581.1,184.4 L581.3,183.8 L581.5,183.2 L581.7,182.5 L581.9,181.9 L582.1,181.3 L582.3,180.6 L582.5,180.0 L582.6,179.4 L582.8,178.7 L583.0,178.1 L583.2,177.4 L583.4,176.8 L583.6,176.2 L583.7,175.5 L583.9,174.9 L584.1,174.3 L584.3,173.6 L584.5,173.0 L584.6,172.3 L584.8,171.7 L585.0,171.1 L585.2,170.4 L585.3,169.8 L585.5,169.1 L585.7,168.5 L585.9,167.9 L586.0,167.2 L586.2,166.6 L586.4,165.9 L586.5,165.3 L586.7,164.7 L586.9,164.0 L587.0,163.4 L587.2,162.7 L587.4,162.1 L587.5,161.4 L587.7,160.8 L587.9,160.2 L588.0,159.5 L588.2,158.9 L588.3,158.2 L588.5,157.6 L588.7,156.9 L588.8,156.3 L589.0,155.6 L589.1,155.0 L589.3,154.3 L589.5,153.7 L589.6,153.1 L589.8,152.4 L589.9,151.8 L590.1,151.1 L590.2,150.5 L590.4,149.8 L590.6,149.2 L590.7,148.5 L590.9,147.9 L591.0,147.2 L591.2,146.6 L591.3,145.9 L591.5,145.3 L591.6,144.6 L591.8,144.0 L592.0,143.3 L592.1,142.7 L592.3,142.0 L592.4,141.4 L592.6,140.8 L592.7,140.1 L592.9,139.5 L593.0,138.8 L593.2,138.2 L593.3,137.5 L593.5,136.9 L593.6,136.2 L593.8,135.6 L594.0,134.9 L594.1,134.3 L594.3,133.6 L594.4,133.0 L594.6,132.3 L594.7,131.7 L594.9,131.0 L595.0,130.4 L595.2,129.7 L595.4,129.1 L595.5,128.4 L595.7,127.8 L595.8,127.1 L596.0,126.5 L596.1,125.9 L596.3,125.2 L596.5,124.6 L596.6,123.9 L596.8,123.3 L596.9,122.6 L597.1,122.0 L597.3,121.3 L597.4,120.7 L597.6,120.0 L597.7,119.4 L597.9,118.7 L598.1,118.1 L598.2,117.5 L598.4,116.8 L598.6,116.2 L598.7,115.5 L598.9,114.9 L599.1,114.2 L599.2,113.6 L599.4,112.9 L599.6,112.3 L599.7,111.7 L599.9,111.0 L600.1,110.4 L600.2,109.7 L600.4,109.1 L600.6,108.4 L600.8,107.8 L600.9,107.2 L601.1,106.5 L601.3,105.9 L601.5,105.2 L601.7,104.6 L601.8,104.0 L602.0,103.3 L602.2,102.7 L602.4,102.1 L602.6,101.4 L602.8,100.8 L602.9,100.1 L603.1,99.5 L603.3,98.9 L603.5,98.2 L603.7,97.6 L603.9,97.0 L604.1,96.3 L604.3,95.7 L604.5,95.1 L604.7,94.4 L604.9,93.8 L605.1,93.2 L605.3,92.5 L605.5,91.9 L605.7,91.3 L605.9,90.6 L606.1,90.0 L606.3,89.4 L606.6,88.8 L606.8,88.1 L607.1,87.5 L607.4,86.9 L607.7,86.3 L608.1,85.7 L608.4,85.1 L608.9,84.5 L609.3,84.0 L609.8,83.4 L610.3,82.9 L610.8,82.4 L611.4,81.9 L612.0,81.5 L612.5,81.2 L613.1,81.0 L613.7,80.8 L614.3,80.8 L614.8,80.8 L615.3,81.0 L615.9,81.2 L616.4,81.5 L616.9,81.9 L617.4,82.4 L617.8,82.9 L618.3,83.4 L618.7,84.0 L619.1,84.6 L619.5,85.1 L619.9,85.7 L620.3,86.3 L620.6,86.9 L621.0,87.5 L621.3,88.1 L621.6,88.7 L621.9,89.3 L622.2,89.9 L622.5,90.5 L622.8,91.1 L623.0,91.8 L623.3,92.4 L623.5,93.0 L623.8,93.6 L624.0,94.2 L624.2,94.9 L624.5,95.5 L624.7,96.1 L624.9,96.8 L625.1,97.4 L625.3,98.0 L625.5,98.7 L625.7,99.3 L625.8,99.9 L626.0,100.6 L626.2,101.2 L626.4,101.8 L626.6,102.5 L626.8,103.1 L627.0,103.8 L627.2,104.4 L627.3,105.0 L627.5,105.7 L627.7,106.3 L627.9,106.9 L628.1,107.6 L628.3,108.2 L628.4,108.9 L628.6,109.5 L628.8,110.1 L629.0,110.8 L629.2,111.4 L629.4,112.1 L629.5,112.7 L629.7,113.3 L629.9,114.0 L630.1,114.6 L630.3,115.3 L630.5,115.9 L630.6,116.5 L630.8,117.2 L631.0,117.8 L631.2,118.5 L631.4,119.1 L631.6,119.7 L631.8,120.4 L631.9,121.0 L632.1,121.7 L632.3,122.3 L632.5,122.9 L632.7,123.6 L632.9,124.2 L633.1,124.9 L633.3,125.5 L633.5,126.1 L633.6,126.8 L633.8,127.4 L634.0,128.0 L634.2,128.7 L634.4,129.3 L634.6,129.9 L634.8,130.6 L635.0,131.2 L635.2,131.9 L635.4,132.5 L635.6,133.1 L635.8,133.8 L636.0,134.4 L636.2,135.0 L636.4,135.6 L636.6,136.3 L636.8,136.9 L637.1,137.5 L637.3,138.2 L637.5,138.8 L637.7,139.4 L637.9,140.1 L638.1,140.7 L638.3,141.3 L638.6,141.9 L638.8,142.6 L639.0,143.2 L639.2,143.8 L639.5,144.4 L639.7,145.0 L639.9,145.7 L640.2,146.3 L640.4,146.9 L640.7,147.5 L640.9,148.1 L641.1,148.8 L641.4,149.4 L641.7,150.0 L641.9,150.6 L642.2,151.2 L642.4,151.8 L642.7,152.4 L643.0,153.0 L643.3,153.6 L643.5,154.2 L643.8,154.8 L644.1,155.5 L644.4,156.1 L644.7,156.6 L645.0,157.2 L645.3,157.8 L645.7,158.4 L646.0,159.0 L646.3,159.6 L646.7,160.2 L647.1,160.7 L647.5,161.3 L647.9,161.8 L648.3,162.4 L648.8,162.9 L649.2,163.4 L649.7,163.9 L650.3,164.3 L650.8,164.8 L651.4,165.2 L652.0,165.5 L652.6,165.9 L653.2,166.1 L653.7,166.4 L654.3,166.5 L654.9,166.6 L655.5,166.7 L656.1,166.6 L656.7,166.6 L657.3,166.4 L657.8,166.3 L658.4,166.0 L659.0,165.8 L659.5,165.5 L660.1,165.1 L660.6,164.8 L661.2,164.4 L661.7,164.0 L662.3,163.5 L662.9,163.1 L663.4,162.7 L664.0,162.2 L664.5,161.8 L665.1,161.3 L665.7,160.9 L666.2,160.4 L666.8,160.0 L667.4,159.6 L668.0,159.2 L668.6,158.8 L669.2,158.5 L669.8,158.2 L670.4,158.0 L671.0,157.7 L671.6,157.6 L672.2,157.4 L672.9,157.4 L673.5,157.4 L674.2,157.4 L674.8,157.5 L675.5,157.7 L675.70,231.20" fill="none" stroke="#e21c20" stroke-width="1.25" stroke-linejoin="round"/>
<path d="M492.55,15.00 H684.75 V231.25 H492.55 Z" fill="none" stroke="#000" stroke-width="0.95" stroke-linejoin="miter"/>
<line x1="501.29" y1="231.20" x2="501.29" y2="234.70" stroke="#000" stroke-width="0.75"/>
<text x="501.29" y="246.00" font-size="10.25" text-anchor="middle" textLength="15.55" lengthAdjust="spacingAndGlyphs">0.0</text>
<line x1="536.23" y1="231.20" x2="536.23" y2="234.70" stroke="#000" stroke-width="0.75"/>
<text x="536.23" y="246.00" font-size="10.25" text-anchor="middle" textLength="15.55" lengthAdjust="spacingAndGlyphs">0.2</text>
<line x1="571.16" y1="231.20" x2="571.16" y2="234.70" stroke="#000" stroke-width="0.75"/>
<text x="571.16" y="246.00" font-size="10.25" text-anchor="middle" textLength="15.55" lengthAdjust="spacingAndGlyphs">0.4</text>
<line x1="606.11" y1="231.20" x2="606.11" y2="234.70" stroke="#000" stroke-width="0.75"/>
<text x="606.11" y="246.00" font-size="10.25" text-anchor="middle" textLength="15.55" lengthAdjust="spacingAndGlyphs">0.6</text>
<line x1="641.05" y1="231.20" x2="641.05" y2="234.70" stroke="#000" stroke-width="0.75"/>
<text x="641.05" y="246.00" font-size="10.25" text-anchor="middle" textLength="15.55" lengthAdjust="spacingAndGlyphs">0.8</text>
<line x1="675.99" y1="231.20" x2="675.99" y2="234.70" stroke="#000" stroke-width="0.75"/>
<text x="675.99" y="246.00" font-size="10.25" text-anchor="middle" textLength="15.55" lengthAdjust="spacingAndGlyphs">1.0</text>
<line x1="489.05" y1="231.20" x2="492.55" y2="231.20" stroke="#000" stroke-width="0.75"/>
<text x="486.35" y="234.85" font-size="10.25" text-anchor="end" textLength="6.22" lengthAdjust="spacingAndGlyphs">0</text>
<line x1="489.05" y1="165.20" x2="492.55" y2="165.20" stroke="#000" stroke-width="0.75"/>
<text x="486.35" y="168.85" font-size="10.25" text-anchor="end" textLength="6.22" lengthAdjust="spacingAndGlyphs">1</text>
<line x1="489.05" y1="99.20" x2="492.55" y2="99.20" stroke="#000" stroke-width="0.75"/>
<text x="486.35" y="102.85" font-size="10.25" text-anchor="end" textLength="6.22" lengthAdjust="spacingAndGlyphs">2</text>
<line x1="489.05" y1="33.20" x2="492.55" y2="33.20" stroke="#000" stroke-width="0.75"/>
<text x="486.35" y="36.85" font-size="10.25" text-anchor="end" textLength="6.22" lengthAdjust="spacingAndGlyphs">3</text>
<text x="588.65" y="9.20" font-size="10.25" text-anchor="middle" textLength="129.08" lengthAdjust="spacingAndGlyphs">Major Depressive Disorder</text>
<text x="588.65" y="258.80" font-size="10.25" text-anchor="middle" textLength="65.71" lengthAdjust="spacingAndGlyphs">Jaccard Index</text>
<text transform="translate(-0.30,8.3) scale(0.95,1)" font-size="12.5" font-weight="bold">A</text>
<text transform="translate(228.50,8.3) scale(0.95,1)" font-size="12.5" font-weight="bold">B</text>
<text transform="translate(459.30,8.3) scale(0.95,1)" font-size="12.5" font-weight="bold">C</text>
<g transform="translate(13.6,123.2) rotate(-90)"><text x="0.00" y="0.00" font-size="10.25" text-anchor="middle" textLength="37.18" lengthAdjust="spacingAndGlyphs">Density</text></g>
<rect x="252.45" y="271.8" width="19.05" height="6.45" fill="rgb(204,210,225)" stroke="#4b6198" stroke-width="1.15"/>
<text x="279.70" y="278.10" font-size="10.25" text-anchor="start" textLength="44.14" lengthAdjust="spacingAndGlyphs">Best(Pub</text>
<text x="323.84" y="280.50" font-size="7.17" text-anchor="start" textLength="4.39" lengthAdjust="spacingAndGlyphs">n</text>
<text x="328.23" y="278.10" font-size="10.25" text-anchor="start" textLength="3.86" lengthAdjust="spacingAndGlyphs">)</text>
<rect x="352.0" y="271.8" width="19.1" height="6.45" fill="rgba(226,28,32,0.29)" stroke="#e21c20" stroke-width="1.15"/>
<text x="378.90" y="278.10" font-size="10.25" text-anchor="start" textLength="76.81" lengthAdjust="spacingAndGlyphs">ChronoAdd(Pub</text>
<text x="455.71" y="280.50" font-size="7.17" text-anchor="start" textLength="4.39" lengthAdjust="spacingAndGlyphs">n</text>
<text x="460.10" y="278.10" font-size="10.25" text-anchor="start" textLength="3.86" lengthAdjust="spacingAndGlyphs">)</text>
</svg></body></html>
